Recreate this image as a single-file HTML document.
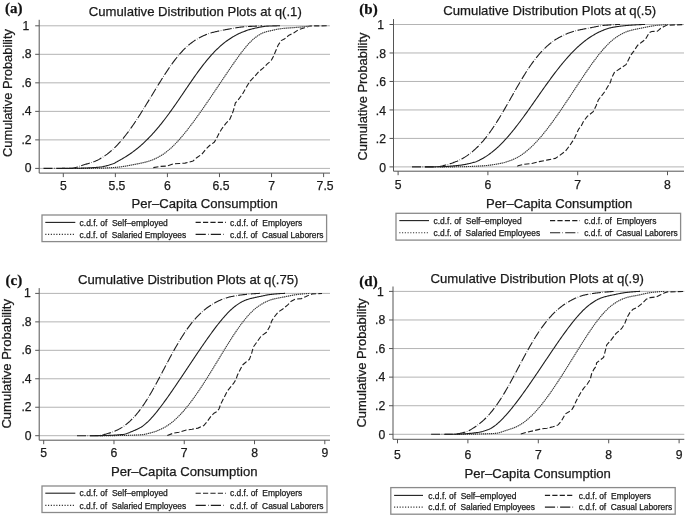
<!DOCTYPE html>
<html><head><meta charset="utf-8"><title>Cumulative Distribution Plots</title>
<style>html,body{margin:0;padding:0;background:#fff;overflow:hidden}svg{display:block;filter:blur(0.4px)}</style></head>
<body><svg width="685" height="515" viewBox="0 0 685 515">
<rect width="685" height="515" fill="#fff"/>
<line x1="39.2" y1="168.40" x2="330" y2="168.40" stroke="#b4b4b4" stroke-width="1"/>
<line x1="39.2" y1="139.88" x2="330" y2="139.88" stroke="#b4b4b4" stroke-width="1"/>
<line x1="39.2" y1="111.36" x2="330" y2="111.36" stroke="#b4b4b4" stroke-width="1"/>
<line x1="39.2" y1="82.84" x2="330" y2="82.84" stroke="#b4b4b4" stroke-width="1"/>
<line x1="39.2" y1="54.32" x2="330" y2="54.32" stroke="#b4b4b4" stroke-width="1"/>
<line x1="39.2" y1="25.80" x2="330" y2="25.80" stroke="#b4b4b4" stroke-width="1"/>
<path d="M153.30,167.60 L160.20,166.40 L167.50,166.00 L173.40,163.80 L179.20,163.50 L185.00,163.10 L189.40,162.00 L193.10,161.00 L196.70,157.70 L201.80,154.30 L205.50,149.60 L209.90,145.30 L214.20,142.30 L216.40,138.70 L218.60,134.30 L221.50,129.20 L225.90,123.40 L229.60,119.70 L232.50,113.10 L233.90,108.80 L235.40,102.90 L237.60,100.70 L242.40,94.20 L246.30,87.20 L250.20,81.00 L254.80,76.30 L258.70,71.70 L263.40,67.80 L267.30,63.90 L271.10,60.80 L273.50,56.20 L275.80,50.70 L278.10,45.30 L281.20,40.60 L284.30,39.10 L289.00,35.20 L293.70,32.90 L298.30,29.80 L303.00,28.20 L307.60,26.70 L310.70,25.90 L329.00,25.80" fill="none" stroke="#1e1e1e" stroke-width="1.1" stroke-dasharray="5.2 2.2"/>
<path d="M75.00,168.40 L75.75,168.40 L76.50,168.40 L77.25,168.40 L78.00,168.40 L78.75,168.40 L79.50,168.39 L80.25,168.39 L81.00,168.39 L81.75,168.39 L82.50,168.38 L83.25,168.38 L84.00,168.38 L84.75,168.37 L85.50,168.37 L86.25,168.37 L87.00,168.36 L87.75,168.36 L88.50,168.35 L89.25,168.35 L90.00,168.34 L90.75,168.34 L91.50,168.33 L92.25,168.32 L93.00,168.32 L93.75,168.31 L94.50,168.30 L95.25,168.30 L96.00,168.29 L96.75,168.28 L97.50,168.26 L98.25,168.25 L99.00,168.23 L99.75,168.21 L100.50,168.19 L101.25,168.16 L102.00,168.13 L102.75,168.11 L103.50,168.08 L104.25,168.04 L105.00,168.01 L105.75,167.97 L106.50,167.94 L107.25,167.90 L108.00,167.86 L108.75,167.81 L109.50,167.77 L110.25,167.73 L111.00,167.68 L111.75,167.63 L112.50,167.59 L113.25,167.54 L114.00,167.49 L114.75,167.44 L115.50,167.39 L116.25,167.33 L117.00,167.26 L117.75,167.19 L118.50,167.12 L119.25,167.03 L120.00,166.94 L120.75,166.85 L121.50,166.75 L122.25,166.64 L123.00,166.53 L123.75,166.41 L124.50,166.29 L125.25,166.17 L126.00,166.04 L126.75,165.91 L127.50,165.78 L128.25,165.64 L129.00,165.51 L129.75,165.37 L130.50,165.22 L131.25,165.08 L132.00,164.93 L132.75,164.79 L133.50,164.64 L134.25,164.49 L135.00,164.35 L135.75,164.20 L136.50,164.05 L137.25,163.91 L138.00,163.76 L138.75,163.61 L139.50,163.46 L140.25,163.31 L141.00,163.15 L141.75,162.98 L142.50,162.82 L143.25,162.64 L144.00,162.47 L144.75,162.29 L145.50,162.10 L146.25,161.90 L147.00,161.71 L147.75,161.50 L148.50,161.29 L149.25,161.06 L150.00,160.82 L150.75,160.55 L151.50,160.27 L152.25,159.98 L153.00,159.70 L153.75,159.37 L154.50,159.03 L155.25,158.67 L156.00,158.31 L156.75,157.93 L157.50,157.54 L158.25,157.14 L159.00,156.73 L159.75,156.30 L160.50,155.87 L161.25,155.43 L162.00,154.98 L162.75,154.52 L163.50,154.04 L164.25,153.50 L165.00,152.94 L165.75,152.37 L166.50,151.79 L167.25,151.19 L168.00,150.59 L168.75,149.97 L169.50,149.34 L170.25,148.70 L171.00,148.04 L171.75,147.35 L172.50,146.63 L173.25,145.90 L174.00,145.16 L174.75,144.41 L175.50,143.64 L176.25,142.86 L177.00,142.07 L177.75,141.26 L178.50,140.43 L179.25,139.59 L180.00,138.75 L180.75,137.89 L181.50,137.01 L182.25,136.12 L183.00,135.23 L183.75,134.32 L184.50,133.41 L185.25,132.48 L186.00,131.55 L186.75,130.61 L187.50,129.66 L188.25,128.69 L189.00,127.72 L189.75,126.75 L190.50,125.76 L191.25,124.77 L192.00,123.77 L192.75,122.76 L193.50,121.75 L194.25,120.73 L195.00,119.71 L195.75,118.68 L196.50,117.64 L197.25,116.60 L198.00,115.55 L198.75,114.50 L199.50,113.44 L200.25,112.38 L201.00,111.32 L201.75,110.25 L202.50,109.17 L203.25,108.09 L204.00,107.01 L204.75,105.93 L205.50,104.84 L206.25,103.75 L207.00,102.66 L207.75,101.56 L208.50,100.46 L209.25,99.36 L210.00,98.26 L210.75,97.15 L211.50,96.04 L212.25,94.93 L213.00,93.82 L213.75,92.71 L214.50,91.60 L215.25,90.48 L216.00,89.37 L216.75,88.25 L217.50,87.13 L218.25,86.01 L219.00,84.90 L219.75,83.78 L220.50,82.66 L221.25,81.54 L222.00,80.43 L222.75,79.31 L223.50,78.19 L224.25,77.08 L225.00,75.96 L225.75,74.85 L226.50,73.74 L227.25,72.64 L228.00,71.53 L228.75,70.43 L229.50,69.33 L230.25,68.23 L231.00,67.14 L231.75,66.05 L232.50,64.96 L233.25,63.88 L234.00,62.81 L234.75,61.74 L235.50,60.67 L236.25,59.62 L237.00,58.57 L237.75,57.52 L238.50,56.49 L239.25,55.46 L240.00,54.45 L240.75,53.44 L241.50,52.45 L242.25,51.47 L243.00,50.51 L243.75,49.57 L244.50,48.63 L245.25,47.71 L246.00,46.80 L246.75,45.91 L247.50,45.04 L248.25,44.19 L249.00,43.39 L249.75,42.60 L250.50,41.83 L251.25,41.08 L252.00,40.35 L252.75,39.68 L253.50,39.05 L254.25,38.44 L255.00,37.84 L255.75,37.25 L256.50,36.69 L257.25,36.15 L258.00,35.64 L258.75,35.15 L259.50,34.69 L260.25,34.26 L261.00,33.85 L261.75,33.46 L262.50,33.11 L263.25,32.78 L264.00,32.50 L264.75,32.25 L265.50,32.02 L266.25,31.79 L267.00,31.58 L267.75,31.38 L268.50,31.19 L269.25,31.01 L270.00,30.84 L270.75,30.67 L271.50,30.50 L272.25,30.34 L273.00,30.18 L273.75,30.02 L274.50,29.86 L275.25,29.69 L276.00,29.53 L276.75,29.37 L277.50,29.22 L278.25,29.07 L279.00,28.95 L279.75,28.83 L280.50,28.74 L281.25,28.65 L282.00,28.56 L282.75,28.48 L283.50,28.40 L284.25,28.33 L285.00,28.26 L285.75,28.19 L286.50,28.13 L287.25,28.07 L288.00,28.01 L288.75,27.95 L289.50,27.90 L290.25,27.84 L291.00,27.79 L291.75,27.73 L292.50,27.68 L293.25,27.63 L294.00,27.58 L294.75,27.52 L295.50,27.47 L296.25,27.41 L297.00,27.35 L297.75,27.30 L298.50,27.23 L299.25,27.17 L300.00,27.10 L300.75,27.03 L301.50,26.96 L302.25,26.89 L303.00,26.81 L303.75,26.73 L304.50,26.65 L305.25,26.57 L306.00,26.49 L306.75,26.41 L307.50,26.32 L308.25,26.24 L309.00,26.15 L309.75,26.06 L310.50,25.98 L311.25,25.89 L312.00,25.80" fill="none" stroke="#b8b8b8" stroke-width="1"/>
<path d="M75.00,168.40 L75.75,168.40 L76.50,168.40 L77.25,168.40 L78.00,168.40 L78.75,168.40 L79.50,168.39 L80.25,168.39 L81.00,168.39 L81.75,168.39 L82.50,168.38 L83.25,168.38 L84.00,168.38 L84.75,168.37 L85.50,168.37 L86.25,168.37 L87.00,168.36 L87.75,168.36 L88.50,168.35 L89.25,168.35 L90.00,168.34 L90.75,168.34 L91.50,168.33 L92.25,168.32 L93.00,168.32 L93.75,168.31 L94.50,168.30 L95.25,168.30 L96.00,168.29 L96.75,168.28 L97.50,168.26 L98.25,168.25 L99.00,168.23 L99.75,168.21 L100.50,168.19 L101.25,168.16 L102.00,168.13 L102.75,168.11 L103.50,168.08 L104.25,168.04 L105.00,168.01 L105.75,167.97 L106.50,167.94 L107.25,167.90 L108.00,167.86 L108.75,167.81 L109.50,167.77 L110.25,167.73 L111.00,167.68 L111.75,167.63 L112.50,167.59 L113.25,167.54 L114.00,167.49 L114.75,167.44 L115.50,167.39 L116.25,167.33 L117.00,167.26 L117.75,167.19 L118.50,167.12 L119.25,167.03 L120.00,166.94 L120.75,166.85 L121.50,166.75 L122.25,166.64 L123.00,166.53 L123.75,166.41 L124.50,166.29 L125.25,166.17 L126.00,166.04 L126.75,165.91 L127.50,165.78 L128.25,165.64 L129.00,165.51 L129.75,165.37 L130.50,165.22 L131.25,165.08 L132.00,164.93 L132.75,164.79 L133.50,164.64 L134.25,164.49 L135.00,164.35 L135.75,164.20 L136.50,164.05 L137.25,163.91 L138.00,163.76 L138.75,163.61 L139.50,163.46 L140.25,163.31 L141.00,163.15 L141.75,162.98 L142.50,162.82 L143.25,162.64 L144.00,162.47 L144.75,162.29 L145.50,162.10 L146.25,161.90 L147.00,161.71 L147.75,161.50 L148.50,161.29 L149.25,161.06 L150.00,160.82 L150.75,160.55 L151.50,160.27 L152.25,159.98 L153.00,159.70 L153.75,159.37 L154.50,159.03 L155.25,158.67 L156.00,158.31 L156.75,157.93 L157.50,157.54 L158.25,157.14 L159.00,156.73 L159.75,156.30 L160.50,155.87 L161.25,155.43 L162.00,154.98 L162.75,154.52 L163.50,154.04 L164.25,153.50 L165.00,152.94 L165.75,152.37 L166.50,151.79 L167.25,151.19 L168.00,150.59 L168.75,149.97 L169.50,149.34 L170.25,148.70 L171.00,148.04 L171.75,147.35 L172.50,146.63 L173.25,145.90 L174.00,145.16 L174.75,144.41 L175.50,143.64 L176.25,142.86 L177.00,142.07 L177.75,141.26 L178.50,140.43 L179.25,139.59 L180.00,138.75 L180.75,137.89 L181.50,137.01 L182.25,136.12 L183.00,135.23 L183.75,134.32 L184.50,133.41 L185.25,132.48 L186.00,131.55 L186.75,130.61 L187.50,129.66 L188.25,128.69 L189.00,127.72 L189.75,126.75 L190.50,125.76 L191.25,124.77 L192.00,123.77 L192.75,122.76 L193.50,121.75 L194.25,120.73 L195.00,119.71 L195.75,118.68 L196.50,117.64 L197.25,116.60 L198.00,115.55 L198.75,114.50 L199.50,113.44 L200.25,112.38 L201.00,111.32 L201.75,110.25 L202.50,109.17 L203.25,108.09 L204.00,107.01 L204.75,105.93 L205.50,104.84 L206.25,103.75 L207.00,102.66 L207.75,101.56 L208.50,100.46 L209.25,99.36 L210.00,98.26 L210.75,97.15 L211.50,96.04 L212.25,94.93 L213.00,93.82 L213.75,92.71 L214.50,91.60 L215.25,90.48 L216.00,89.37 L216.75,88.25 L217.50,87.13 L218.25,86.01 L219.00,84.90 L219.75,83.78 L220.50,82.66 L221.25,81.54 L222.00,80.43 L222.75,79.31 L223.50,78.19 L224.25,77.08 L225.00,75.96 L225.75,74.85 L226.50,73.74 L227.25,72.64 L228.00,71.53 L228.75,70.43 L229.50,69.33 L230.25,68.23 L231.00,67.14 L231.75,66.05 L232.50,64.96 L233.25,63.88 L234.00,62.81 L234.75,61.74 L235.50,60.67 L236.25,59.62 L237.00,58.57 L237.75,57.52 L238.50,56.49 L239.25,55.46 L240.00,54.45 L240.75,53.44 L241.50,52.45 L242.25,51.47 L243.00,50.51 L243.75,49.57 L244.50,48.63 L245.25,47.71 L246.00,46.80 L246.75,45.91 L247.50,45.04 L248.25,44.19 L249.00,43.39 L249.75,42.60 L250.50,41.83 L251.25,41.08 L252.00,40.35 L252.75,39.68 L253.50,39.05 L254.25,38.44 L255.00,37.84 L255.75,37.25 L256.50,36.69 L257.25,36.15 L258.00,35.64 L258.75,35.15 L259.50,34.69 L260.25,34.26 L261.00,33.85 L261.75,33.46 L262.50,33.11 L263.25,32.78 L264.00,32.50 L264.75,32.25 L265.50,32.02 L266.25,31.79 L267.00,31.58 L267.75,31.38 L268.50,31.19 L269.25,31.01 L270.00,30.84 L270.75,30.67 L271.50,30.50 L272.25,30.34 L273.00,30.18 L273.75,30.02 L274.50,29.86 L275.25,29.69 L276.00,29.53 L276.75,29.37 L277.50,29.22 L278.25,29.07 L279.00,28.95 L279.75,28.83 L280.50,28.74 L281.25,28.65 L282.00,28.56 L282.75,28.48 L283.50,28.40 L284.25,28.33 L285.00,28.26 L285.75,28.19 L286.50,28.13 L287.25,28.07 L288.00,28.01 L288.75,27.95 L289.50,27.90 L290.25,27.84 L291.00,27.79 L291.75,27.73 L292.50,27.68 L293.25,27.63 L294.00,27.58 L294.75,27.52 L295.50,27.47 L296.25,27.41 L297.00,27.35 L297.75,27.30 L298.50,27.23 L299.25,27.17 L300.00,27.10 L300.75,27.03 L301.50,26.96 L302.25,26.89 L303.00,26.81 L303.75,26.73 L304.50,26.65 L305.25,26.57 L306.00,26.49 L306.75,26.41 L307.50,26.32 L308.25,26.24 L309.00,26.15 L309.75,26.06 L310.50,25.98 L311.25,25.89 L312.00,25.80" fill="none" stroke="#333" stroke-width="1.1" stroke-dasharray="1.1 0.9"/>
<path d="M62.00,168.40 L62.75,168.40 L63.50,168.40 L64.25,168.40 L65.00,168.39 L65.75,168.39 L66.50,168.38 L67.25,168.38 L68.00,168.37 L68.75,168.37 L69.50,168.36 L70.25,168.35 L71.00,168.35 L71.75,168.34 L72.50,168.33 L73.25,168.32 L74.00,168.31 L74.75,168.30 L75.50,168.29 L76.25,168.28 L77.00,168.27 L77.75,168.26 L78.50,168.24 L79.25,168.22 L80.00,168.21 L80.75,168.19 L81.50,168.16 L82.25,168.14 L83.00,168.12 L83.75,168.09 L84.50,168.06 L85.25,168.03 L86.00,168.00 L86.75,167.97 L87.50,167.94 L88.25,167.90 L89.00,167.86 L89.75,167.82 L90.50,167.78 L91.25,167.74 L92.00,167.70 L92.75,167.65 L93.50,167.60 L94.25,167.55 L95.00,167.50 L95.75,167.45 L96.50,167.40 L97.25,167.34 L98.00,167.28 L98.75,167.22 L99.50,167.13 L100.25,167.04 L101.00,166.93 L101.75,166.81 L102.50,166.67 L103.25,166.53 L104.00,166.37 L104.75,166.21 L105.50,166.03 L106.25,165.85 L107.00,165.65 L107.75,165.45 L108.50,165.23 L109.25,165.02 L110.00,164.79 L110.75,164.55 L111.50,164.31 L112.25,164.07 L113.00,163.81 L113.75,163.50 L114.50,163.14 L115.25,162.74 L116.00,162.32 L116.75,161.88 L117.50,161.45 L118.25,161.03 L119.00,160.63 L119.75,160.23 L120.50,159.81 L121.25,159.38 L122.00,158.94 L122.75,158.50 L123.50,158.05 L124.25,157.60 L125.00,157.14 L125.75,156.68 L126.50,156.21 L127.25,155.73 L128.00,155.25 L128.75,154.77 L129.50,154.28 L130.25,153.76 L131.00,153.22 L131.75,152.68 L132.50,152.14 L133.25,151.58 L134.00,151.02 L134.75,150.45 L135.50,149.88 L136.25,149.30 L137.00,148.71 L137.75,148.11 L138.50,147.49 L139.25,146.86 L140.00,146.21 L140.75,145.56 L141.50,144.90 L142.25,144.23 L143.00,143.55 L143.75,142.86 L144.50,142.16 L145.25,141.45 L146.00,140.72 L146.75,139.98 L147.50,139.24 L148.25,138.49 L149.00,137.72 L149.75,136.94 L150.50,136.15 L151.25,135.35 L152.00,134.54 L152.75,133.72 L153.50,132.89 L154.25,132.05 L155.00,131.21 L155.75,130.35 L156.50,129.48 L157.25,128.59 L158.00,127.70 L158.75,126.80 L159.50,125.89 L160.25,124.97 L161.00,124.04 L161.75,123.10 L162.50,122.15 L163.25,121.19 L164.00,120.22 L164.75,119.24 L165.50,118.26 L166.25,117.26 L167.00,116.26 L167.75,115.25 L168.50,114.24 L169.25,113.21 L170.00,112.18 L170.75,111.14 L171.50,110.09 L172.25,109.04 L173.00,107.98 L173.75,106.92 L174.50,105.85 L175.25,104.77 L176.00,103.70 L176.75,102.61 L177.50,101.53 L178.25,100.44 L179.00,99.34 L179.75,98.24 L180.50,97.14 L181.25,96.04 L182.00,94.94 L182.75,93.83 L183.50,92.73 L184.25,91.62 L185.00,90.52 L185.75,89.41 L186.50,88.31 L187.25,87.21 L188.00,86.10 L188.75,85.01 L189.50,83.91 L190.25,82.82 L191.00,81.73 L191.75,80.64 L192.50,79.57 L193.25,78.49 L194.00,77.42 L194.75,76.36 L195.50,75.30 L196.25,74.25 L197.00,73.21 L197.75,72.17 L198.50,71.14 L199.25,70.12 L200.00,69.11 L200.75,68.11 L201.50,67.12 L202.25,66.13 L203.00,65.16 L203.75,64.20 L204.50,63.25 L205.25,62.31 L206.00,61.39 L206.75,60.47 L207.50,59.57 L208.25,58.67 L209.00,57.79 L209.75,56.92 L210.50,56.07 L211.25,55.22 L212.00,54.40 L212.75,53.58 L213.50,52.78 L214.25,51.99 L215.00,51.22 L215.75,50.47 L216.50,49.73 L217.25,49.00 L218.00,48.28 L218.75,47.58 L219.50,46.88 L220.25,46.20 L221.00,45.52 L221.75,44.87 L222.50,44.24 L223.25,43.63 L224.00,43.03 L224.75,42.44 L225.50,41.86 L226.25,41.29 L227.00,40.74 L227.75,40.19 L228.50,39.67 L229.25,39.18 L230.00,38.70 L230.75,38.22 L231.50,37.75 L232.25,37.28 L233.00,36.83 L233.75,36.38 L234.50,35.95 L235.25,35.52 L236.00,35.11 L236.75,34.71 L237.50,34.32 L238.25,33.94 L239.00,33.57 L239.75,33.22 L240.50,32.89 L241.25,32.58 L242.00,32.28 L242.75,31.99 L243.50,31.70 L244.25,31.42 L245.00,31.14 L245.75,30.87 L246.50,30.60 L247.25,30.34 L248.00,30.09 L248.75,29.85 L249.50,29.62 L250.25,29.40 L251.00,29.18 L251.75,28.98 L252.50,28.79 L253.25,28.61 L254.00,28.44 L254.75,28.27 L255.50,28.09 L256.25,27.92 L257.00,27.76 L257.75,27.59 L258.50,27.43 L259.25,27.27 L260.00,27.12 L260.75,26.97 L261.50,26.84 L262.25,26.71 L263.00,26.59 L263.75,26.48 L264.50,26.38 L265.25,26.29 L266.00,26.22 L266.75,26.16 L267.50,26.11 L268.25,26.08 L269.00,26.05 L269.75,26.02 L270.50,25.99 L271.25,25.97 L272.00,25.94 L272.75,25.92 L273.50,25.90 L274.25,25.88 L275.00,25.86 L275.75,25.84 L276.50,25.83 L277.25,25.82 L278.00,25.81 L278.75,25.80 L279.50,25.80 L280.00,25.80" fill="none" stroke="#1e1e1e" stroke-width="1.1"/>
<path d="M43.50,168.40 L44.25,168.40 L45.00,168.40 L45.75,168.40 L46.50,168.40 L47.25,168.40 L48.00,168.40 L48.75,168.40 L49.50,168.40 L50.25,168.40 L51.00,168.40 L51.75,168.40 L52.50,168.40 L53.25,168.40 L54.00,168.40 L54.75,168.40 L55.50,168.40 L56.25,168.40 L57.00,168.40 L57.75,168.40 L58.50,168.40 L59.25,168.40 L60.00,168.40 L60.75,168.40 L61.50,168.40 L62.25,168.40 L63.00,168.40 L63.75,168.40 L64.50,168.40 L65.25,168.40 L66.00,168.40 L66.75,168.40 L67.50,168.40 L68.25,168.40 L69.00,168.40 L69.75,168.40 L70.50,168.38 L71.25,168.33 L72.00,168.24 L72.75,168.13 L73.50,167.98 L74.25,167.82 L75.00,167.63 L75.75,167.42 L76.50,167.19 L77.25,166.96 L78.00,166.71 L78.75,166.46 L79.50,166.20 L80.25,165.94 L81.00,165.69 L81.75,165.44 L82.50,165.19 L83.25,164.96 L84.00,164.74 L84.75,164.53 L85.50,164.31 L86.25,164.10 L87.00,163.88 L87.75,163.66 L88.50,163.44 L89.25,163.22 L90.00,162.99 L90.75,162.75 L91.50,162.51 L92.25,162.26 L93.00,162.00 L93.75,161.73 L94.50,161.46 L95.25,161.17 L96.00,160.87 L96.75,160.51 L97.50,160.16 L98.25,159.77 L99.00,159.37 L99.75,158.94 L100.50,158.51 L101.25,158.06 L102.00,157.60 L102.75,157.13 L103.50,156.65 L104.25,156.16 L105.00,155.66 L105.75,155.15 L106.50,154.63 L107.25,154.10 L108.00,153.50 L108.75,152.90 L109.50,152.28 L110.25,151.65 L111.00,151.00 L111.75,150.35 L112.50,149.68 L113.25,149.00 L114.00,148.31 L114.75,147.59 L115.50,146.84 L116.25,146.08 L117.00,145.30 L117.75,144.51 L118.50,143.70 L119.25,142.88 L120.00,142.05 L120.75,141.19 L121.50,140.32 L122.25,139.43 L123.00,138.53 L123.75,137.61 L124.50,136.68 L125.25,135.73 L126.00,134.77 L126.75,133.79 L127.50,132.81 L128.25,131.81 L129.00,130.80 L129.75,129.77 L130.50,128.73 L131.25,127.67 L132.00,126.61 L132.75,125.53 L133.50,124.44 L134.25,123.34 L135.00,122.23 L135.75,121.11 L136.50,119.98 L137.25,118.84 L138.00,117.69 L138.75,116.53 L139.50,115.37 L140.25,114.19 L141.00,113.01 L141.75,111.82 L142.50,110.63 L143.25,109.42 L144.00,108.22 L144.75,107.00 L145.50,105.78 L146.25,104.56 L147.00,103.33 L147.75,102.11 L148.50,100.87 L149.25,99.64 L150.00,98.40 L150.75,97.16 L151.50,95.92 L152.25,94.68 L153.00,93.44 L153.75,92.21 L154.50,90.97 L155.25,89.74 L156.00,88.50 L156.75,87.27 L157.50,86.05 L158.25,84.82 L159.00,83.61 L159.75,82.40 L160.50,81.19 L161.25,79.99 L162.00,78.80 L162.75,77.62 L163.50,76.44 L164.25,75.27 L165.00,74.11 L165.75,72.97 L166.50,71.83 L167.25,70.70 L168.00,69.59 L168.75,68.49 L169.50,67.40 L170.25,66.32 L171.00,65.25 L171.75,64.20 L172.50,63.17 L173.25,62.16 L174.00,61.16 L174.75,60.17 L175.50,59.20 L176.25,58.24 L177.00,57.30 L177.75,56.38 L178.50,55.48 L179.25,54.60 L180.00,53.73 L180.75,52.88 L181.50,52.04 L182.25,51.25 L183.00,50.47 L183.75,49.70 L184.50,48.95 L185.25,48.22 L186.00,47.50 L186.75,46.79 L187.50,46.10 L188.25,45.43 L189.00,44.79 L189.75,44.17 L190.50,43.58 L191.25,43.00 L192.00,42.44 L192.75,41.89 L193.50,41.36 L194.25,40.83 L195.00,40.32 L195.75,39.84 L196.50,39.41 L197.25,38.98 L198.00,38.56 L198.75,38.15 L199.50,37.75 L200.25,37.35 L201.00,36.97 L201.75,36.59 L202.50,36.23 L203.25,35.87 L204.00,35.53 L204.75,35.20 L205.50,34.88 L206.25,34.57 L207.00,34.28 L207.75,34.00 L208.50,33.73 L209.25,33.47 L210.00,33.23 L210.75,33.00 L211.50,32.77 L212.25,32.56 L213.00,32.36 L213.75,32.17 L214.50,31.98 L215.25,31.80 L216.00,31.62 L216.75,31.45 L217.50,31.28 L218.25,31.12 L219.00,30.96 L219.75,30.80 L220.50,30.65 L221.25,30.50 L222.00,30.35 L222.75,30.21 L223.50,30.07 L224.25,29.93 L225.00,29.79 L225.75,29.65 L226.50,29.51 L227.25,29.37 L228.00,29.23 L228.75,29.09 L229.50,28.95 L230.25,28.81 L231.00,28.67 L231.75,28.53 L232.50,28.40 L233.25,28.26 L234.00,28.13 L234.75,28.01 L235.50,27.88 L236.25,27.76 L237.00,27.64 L237.75,27.53 L238.50,27.42 L239.25,27.31 L240.00,27.21 L240.75,27.12 L241.50,27.03 L242.25,26.95 L243.00,26.87 L243.75,26.80 L244.50,26.74 L245.25,26.68 L246.00,26.63 L246.75,26.58 L247.50,26.54 L248.25,26.50 L249.00,26.46 L249.75,26.42 L250.50,26.39 L251.25,26.36 L252.00,26.32 L252.75,26.29 L253.50,26.26 L254.25,26.23 L255.00,26.20 L255.75,26.17 L256.50,26.13 L257.25,26.10 L258.00,26.06 L258.75,26.01 L259.50,25.97 L260.25,25.92 L261.00,25.87 L261.75,25.82 L262.00,25.80" fill="none" stroke="#1e1e1e" stroke-width="1.1" stroke-dasharray="9 1.6 0.5 1.6"/>
<line x1="39.2" y1="19.8" x2="39.2" y2="173.1" stroke="#555555" stroke-width="1"/>
<line x1="39.2" y1="173.1" x2="330" y2="173.1" stroke="#555555" stroke-width="1"/>
<line x1="35.2" y1="168.40" x2="39.2" y2="168.40" stroke="#555555" stroke-width="1"/>
<text x="31.60" y="172.20" font-family='"Liberation Sans", sans-serif' font-size="12.2" font-weight="normal" text-anchor="end" fill="#1a1a1a" stroke="#1a1a1a" stroke-width="0.25" xml:space="preserve">0</text>
<line x1="35.2" y1="139.88" x2="39.2" y2="139.88" stroke="#555555" stroke-width="1"/>
<text x="31.60" y="143.68" font-family='"Liberation Sans", sans-serif' font-size="12.2" font-weight="normal" text-anchor="end" fill="#1a1a1a" stroke="#1a1a1a" stroke-width="0.25" xml:space="preserve">.2</text>
<line x1="35.2" y1="111.36" x2="39.2" y2="111.36" stroke="#555555" stroke-width="1"/>
<text x="31.60" y="115.16" font-family='"Liberation Sans", sans-serif' font-size="12.2" font-weight="normal" text-anchor="end" fill="#1a1a1a" stroke="#1a1a1a" stroke-width="0.25" xml:space="preserve">.4</text>
<line x1="35.2" y1="82.84" x2="39.2" y2="82.84" stroke="#555555" stroke-width="1"/>
<text x="31.60" y="86.64" font-family='"Liberation Sans", sans-serif' font-size="12.2" font-weight="normal" text-anchor="end" fill="#1a1a1a" stroke="#1a1a1a" stroke-width="0.25" xml:space="preserve">.6</text>
<line x1="35.2" y1="54.32" x2="39.2" y2="54.32" stroke="#555555" stroke-width="1"/>
<text x="31.60" y="58.12" font-family='"Liberation Sans", sans-serif' font-size="12.2" font-weight="normal" text-anchor="end" fill="#1a1a1a" stroke="#1a1a1a" stroke-width="0.25" xml:space="preserve">.8</text>
<line x1="35.2" y1="25.80" x2="39.2" y2="25.80" stroke="#555555" stroke-width="1"/>
<text x="29.20" y="29.60" font-family='"Liberation Sans", sans-serif' font-size="12.2" font-weight="normal" text-anchor="end" fill="#1a1a1a" stroke="#1a1a1a" stroke-width="0.25" xml:space="preserve">1</text>
<line x1="63.30" y1="173.1" x2="63.30" y2="177.1" stroke="#555555" stroke-width="1"/>
<text x="63.30" y="190.2" font-family='"Liberation Sans", sans-serif' font-size="12.2" font-weight="normal" text-anchor="middle" fill="#1a1a1a" stroke="#1a1a1a" stroke-width="0.25" xml:space="preserve">5</text>
<line x1="115.36" y1="173.1" x2="115.36" y2="177.1" stroke="#555555" stroke-width="1"/>
<text x="116.86" y="190.2" font-family='"Liberation Sans", sans-serif' font-size="12.2" font-weight="normal" text-anchor="middle" fill="#1a1a1a" stroke="#1a1a1a" stroke-width="0.25" xml:space="preserve">5.5</text>
<line x1="167.42" y1="173.1" x2="167.42" y2="177.1" stroke="#555555" stroke-width="1"/>
<text x="167.42" y="190.2" font-family='"Liberation Sans", sans-serif' font-size="12.2" font-weight="normal" text-anchor="middle" fill="#1a1a1a" stroke="#1a1a1a" stroke-width="0.25" xml:space="preserve">6</text>
<line x1="219.48" y1="173.1" x2="219.48" y2="177.1" stroke="#555555" stroke-width="1"/>
<text x="220.98" y="190.2" font-family='"Liberation Sans", sans-serif' font-size="12.2" font-weight="normal" text-anchor="middle" fill="#1a1a1a" stroke="#1a1a1a" stroke-width="0.25" xml:space="preserve">6.5</text>
<line x1="271.54" y1="173.1" x2="271.54" y2="177.1" stroke="#555555" stroke-width="1"/>
<text x="271.54" y="190.2" font-family='"Liberation Sans", sans-serif' font-size="12.2" font-weight="normal" text-anchor="middle" fill="#1a1a1a" stroke="#1a1a1a" stroke-width="0.25" xml:space="preserve">7</text>
<line x1="323.60" y1="173.1" x2="323.60" y2="177.1" stroke="#555555" stroke-width="1"/>
<text x="325.10" y="190.2" font-family='"Liberation Sans", sans-serif' font-size="12.2" font-weight="normal" text-anchor="middle" fill="#1a1a1a" stroke="#1a1a1a" stroke-width="0.25" xml:space="preserve">7.5</text>
<text x="5" y="13.4" font-family='"Liberation Serif", serif' font-size="15" font-weight="bold" text-anchor="start" fill="#111" stroke="#111" stroke-width="0.25" xml:space="preserve">(a)</text>
<text x="88.8" y="15.6" font-family='"Liberation Sans", sans-serif' font-size="13" font-weight="normal" text-anchor="start" fill="#1a1a1a" stroke="#1a1a1a" stroke-width="0.25" textLength="213" lengthAdjust="spacingAndGlyphs" xml:space="preserve">Cumulative Distribution Plots at q(.1)</text>
<text x="131.5" y="207.5" font-family='"Liberation Sans", sans-serif' font-size="13" font-weight="normal" text-anchor="start" fill="#1a1a1a" stroke="#1a1a1a" stroke-width="0.25" textLength="146.4" lengthAdjust="spacingAndGlyphs" xml:space="preserve">Per–Capita Consumption</text>
<g transform="translate(11.7,93.0) rotate(-90)"><text x="0" y="0" font-family='"Liberation Sans", sans-serif' font-size="13" font-weight="normal" text-anchor="middle" fill="#1a1a1a" stroke="#1a1a1a" stroke-width="0.25" textLength="128" lengthAdjust="spacingAndGlyphs" xml:space="preserve">Cumulative Probability</text></g>
<rect x="42.0" y="215.0" width="284.6" height="26.599999999999994" fill="#fff" stroke="#8a8a8a" stroke-width="1.3"/>
<line x1="45.3" y1="222.4" x2="75.3" y2="222.4" stroke="#1e1e1e" stroke-width="1.1"/>
<line x1="45.3" y1="234.4" x2="75.3" y2="234.4" stroke="#2a2a2a" stroke-width="1.1" stroke-dasharray="1.1 1.65"/>
<line x1="195.6" y1="222.4" x2="226.0" y2="222.4" stroke="#1e1e1e" stroke-width="1.1" stroke-dasharray="5.2 2.2"/>
<line x1="195.6" y1="234.4" x2="226.0" y2="234.4" stroke="#1e1e1e" stroke-width="1.1" stroke-dasharray="10.2 2.2 0.6 2.2"/>
<text x="79.6" y="225.60" font-family='"Liberation Sans", sans-serif' font-size="8.4" font-weight="normal" text-anchor="start" fill="#1a1a1a" stroke="#1a1a1a" stroke-width="0.25" textLength="88.2" lengthAdjust="spacingAndGlyphs" xml:space="preserve">c.d.f. of  Self–employed</text>
<text x="79.6" y="237.60" font-family='"Liberation Sans", sans-serif' font-size="8.4" font-weight="normal" text-anchor="start" fill="#1a1a1a" stroke="#1a1a1a" stroke-width="0.25" textLength="106.6" lengthAdjust="spacingAndGlyphs" xml:space="preserve">c.d.f. of  Salaried Employees</text>
<text x="230.0" y="225.60" font-family='"Liberation Sans", sans-serif' font-size="8.4" font-weight="normal" text-anchor="start" fill="#1a1a1a" stroke="#1a1a1a" stroke-width="0.25" textLength="72.2" lengthAdjust="spacingAndGlyphs" xml:space="preserve">c.d.f. of  Employers</text>
<text x="230.0" y="237.60" font-family='"Liberation Sans", sans-serif' font-size="8.4" font-weight="normal" text-anchor="start" fill="#1a1a1a" stroke="#1a1a1a" stroke-width="0.25" textLength="93.5" lengthAdjust="spacingAndGlyphs" xml:space="preserve">c.d.f. of  Casual Laborers</text>
<line x1="393.5" y1="166.90" x2="684" y2="166.90" stroke="#b4b4b4" stroke-width="1"/>
<line x1="393.5" y1="138.42" x2="684" y2="138.42" stroke="#b4b4b4" stroke-width="1"/>
<line x1="393.5" y1="109.94" x2="684" y2="109.94" stroke="#b4b4b4" stroke-width="1"/>
<line x1="393.5" y1="81.46" x2="684" y2="81.46" stroke="#b4b4b4" stroke-width="1"/>
<line x1="393.5" y1="52.98" x2="684" y2="52.98" stroke="#b4b4b4" stroke-width="1"/>
<line x1="393.5" y1="24.50" x2="684" y2="24.50" stroke="#b4b4b4" stroke-width="1"/>
<path d="M517.50,166.50 L518.00,165.70 L524.60,164.20 L531.90,163.50 L539.20,161.60 L548.00,159.90 L555.30,158.40 L559.60,155.50 L565.50,151.10 L569.90,145.30 L572.80,140.90 L575.00,137.20 L578.60,129.20 L581.20,126.00 L583.40,121.50 L587.30,116.30 L593.20,111.70 L596.10,105.80 L598.30,100.00 L604.70,91.80 L610.50,82.10 L611.50,78.30 L614.40,72.40 L620.20,68.50 L626.00,64.70 L630.90,55.00 L633.80,51.10 L637.70,45.20 L641.60,42.30 L645.40,39.40 L649.30,32.60 L651.70,31.50 L657.30,31.30 L660.50,28.50 L664.00,26.50 L666.50,25.20 L684.00,24.60" fill="none" stroke="#1e1e1e" stroke-width="1.1" stroke-dasharray="5.2 2.2"/>
<path d="M440.00,166.90 L440.75,166.90 L441.50,166.90 L442.25,166.90 L443.00,166.90 L443.75,166.89 L444.50,166.89 L445.25,166.89 L446.00,166.88 L446.75,166.88 L447.50,166.88 L448.25,166.87 L449.00,166.87 L449.75,166.86 L450.50,166.86 L451.25,166.85 L452.00,166.84 L452.75,166.84 L453.50,166.83 L454.25,166.83 L455.00,166.82 L455.75,166.81 L456.50,166.80 L457.25,166.80 L458.00,166.79 L458.75,166.78 L459.50,166.77 L460.25,166.76 L461.00,166.74 L461.75,166.73 L462.50,166.71 L463.25,166.69 L464.00,166.68 L464.75,166.66 L465.50,166.63 L466.25,166.61 L467.00,166.59 L467.75,166.56 L468.50,166.54 L469.25,166.51 L470.00,166.48 L470.75,166.45 L471.50,166.42 L472.25,166.39 L473.00,166.36 L473.75,166.33 L474.50,166.29 L475.25,166.26 L476.00,166.22 L476.75,166.19 L477.50,166.15 L478.25,166.11 L479.00,166.07 L479.75,166.03 L480.50,165.99 L481.25,165.94 L482.00,165.90 L482.75,165.85 L483.50,165.80 L484.25,165.74 L485.00,165.68 L485.75,165.61 L486.50,165.54 L487.25,165.46 L488.00,165.38 L488.75,165.30 L489.50,165.20 L490.25,165.11 L491.00,165.01 L491.75,164.90 L492.50,164.80 L493.25,164.68 L494.00,164.57 L494.75,164.45 L495.50,164.32 L496.25,164.20 L497.00,164.06 L497.75,163.93 L498.50,163.79 L499.25,163.65 L500.00,163.51 L500.75,163.36 L501.50,163.21 L502.25,163.06 L503.00,162.90 L503.75,162.73 L504.50,162.53 L505.25,162.30 L506.00,162.06 L506.75,161.81 L507.50,161.56 L508.25,161.30 L509.00,161.04 L509.75,160.77 L510.50,160.49 L511.25,160.20 L512.00,159.90 L512.75,159.59 L513.50,159.27 L514.25,158.95 L515.00,158.61 L515.75,158.25 L516.50,157.88 L517.25,157.48 L518.00,157.05 L518.75,156.62 L519.50,156.16 L520.25,155.70 L521.00,155.22 L521.75,154.71 L522.50,154.19 L523.25,153.66 L524.00,153.12 L524.75,152.56 L525.50,151.96 L526.25,151.35 L527.00,150.73 L527.75,150.10 L528.50,149.46 L529.25,148.80 L530.00,148.14 L530.75,147.46 L531.50,146.77 L532.25,146.05 L533.00,145.30 L533.75,144.55 L534.50,143.78 L535.25,143.01 L536.00,142.22 L536.75,141.42 L537.50,140.61 L538.25,139.77 L539.00,138.93 L539.75,138.07 L540.50,137.20 L541.25,136.32 L542.00,135.43 L542.75,134.52 L543.50,133.61 L544.25,132.68 L545.00,131.75 L545.75,130.81 L546.50,129.86 L547.25,128.89 L548.00,127.92 L548.75,126.94 L549.50,125.94 L550.25,124.94 L551.00,123.94 L551.75,122.92 L552.50,121.90 L553.25,120.86 L554.00,119.83 L554.75,118.78 L555.50,117.73 L556.25,116.67 L557.00,115.60 L557.75,114.53 L558.50,113.46 L559.25,112.38 L560.00,111.29 L560.75,110.20 L561.50,109.10 L562.25,108.00 L563.00,106.89 L563.75,105.78 L564.50,104.67 L565.25,103.55 L566.00,102.43 L566.75,101.31 L567.50,100.18 L568.25,99.05 L569.00,97.92 L569.75,96.79 L570.50,95.66 L571.25,94.52 L572.00,93.39 L572.75,92.25 L573.50,91.11 L574.25,89.97 L575.00,88.83 L575.75,87.70 L576.50,86.56 L577.25,85.42 L578.00,84.29 L578.75,83.15 L579.50,82.02 L580.25,80.89 L581.00,79.76 L581.75,78.64 L582.50,77.52 L583.25,76.40 L584.00,75.29 L584.75,74.17 L585.50,73.07 L586.25,71.97 L587.00,70.88 L587.75,69.78 L588.50,68.70 L589.25,67.62 L590.00,66.56 L590.75,65.49 L591.50,64.44 L592.25,63.39 L593.00,62.35 L593.75,61.33 L594.50,60.31 L595.25,59.31 L596.00,58.31 L596.75,57.32 L597.50,56.34 L598.25,55.38 L599.00,54.43 L599.75,53.49 L600.50,52.57 L601.25,51.66 L602.00,50.76 L602.75,49.90 L603.50,49.04 L604.25,48.20 L605.00,47.37 L605.75,46.56 L606.50,45.76 L607.25,44.98 L608.00,44.22 L608.75,43.49 L609.50,42.77 L610.25,42.07 L611.00,41.39 L611.75,40.73 L612.50,40.10 L613.25,39.48 L614.00,38.88 L614.75,38.33 L615.50,37.81 L616.25,37.29 L617.00,36.79 L617.75,36.29 L618.50,35.81 L619.25,35.35 L620.00,34.89 L620.75,34.46 L621.50,34.04 L622.25,33.64 L623.00,33.25 L623.75,32.89 L624.50,32.54 L625.25,32.21 L626.00,31.89 L626.75,31.61 L627.50,31.35 L628.25,31.12 L629.00,30.90 L629.75,30.68 L630.50,30.48 L631.25,30.29 L632.00,30.10 L632.75,29.91 L633.50,29.74 L634.25,29.57 L635.00,29.40 L635.75,29.24 L636.50,29.08 L637.25,28.93 L638.00,28.78 L638.75,28.62 L639.50,28.48 L640.25,28.33 L641.00,28.18 L641.75,28.03 L642.50,27.88 L643.25,27.73 L644.00,27.58 L644.75,27.42 L645.50,27.27 L646.25,27.11 L647.00,26.96 L647.75,26.81 L648.50,26.66 L649.25,26.51 L650.00,26.37 L650.75,26.24 L651.50,26.11 L652.25,25.98 L653.00,25.87 L653.75,25.76 L654.50,25.66 L655.25,25.57 L656.00,25.49 L656.75,25.40 L657.50,25.32 L658.25,25.24 L659.00,25.16 L659.75,25.08 L660.50,25.01 L661.25,24.94 L662.00,24.87 L662.75,24.81 L663.50,24.75 L664.25,24.70 L665.00,24.65 L665.75,24.60 L666.50,24.56 L667.25,24.53 L668.00,24.50" fill="none" stroke="#b8b8b8" stroke-width="1"/>
<path d="M440.00,166.90 L440.75,166.90 L441.50,166.90 L442.25,166.90 L443.00,166.90 L443.75,166.89 L444.50,166.89 L445.25,166.89 L446.00,166.88 L446.75,166.88 L447.50,166.88 L448.25,166.87 L449.00,166.87 L449.75,166.86 L450.50,166.86 L451.25,166.85 L452.00,166.84 L452.75,166.84 L453.50,166.83 L454.25,166.83 L455.00,166.82 L455.75,166.81 L456.50,166.80 L457.25,166.80 L458.00,166.79 L458.75,166.78 L459.50,166.77 L460.25,166.76 L461.00,166.74 L461.75,166.73 L462.50,166.71 L463.25,166.69 L464.00,166.68 L464.75,166.66 L465.50,166.63 L466.25,166.61 L467.00,166.59 L467.75,166.56 L468.50,166.54 L469.25,166.51 L470.00,166.48 L470.75,166.45 L471.50,166.42 L472.25,166.39 L473.00,166.36 L473.75,166.33 L474.50,166.29 L475.25,166.26 L476.00,166.22 L476.75,166.19 L477.50,166.15 L478.25,166.11 L479.00,166.07 L479.75,166.03 L480.50,165.99 L481.25,165.94 L482.00,165.90 L482.75,165.85 L483.50,165.80 L484.25,165.74 L485.00,165.68 L485.75,165.61 L486.50,165.54 L487.25,165.46 L488.00,165.38 L488.75,165.30 L489.50,165.20 L490.25,165.11 L491.00,165.01 L491.75,164.90 L492.50,164.80 L493.25,164.68 L494.00,164.57 L494.75,164.45 L495.50,164.32 L496.25,164.20 L497.00,164.06 L497.75,163.93 L498.50,163.79 L499.25,163.65 L500.00,163.51 L500.75,163.36 L501.50,163.21 L502.25,163.06 L503.00,162.90 L503.75,162.73 L504.50,162.53 L505.25,162.30 L506.00,162.06 L506.75,161.81 L507.50,161.56 L508.25,161.30 L509.00,161.04 L509.75,160.77 L510.50,160.49 L511.25,160.20 L512.00,159.90 L512.75,159.59 L513.50,159.27 L514.25,158.95 L515.00,158.61 L515.75,158.25 L516.50,157.88 L517.25,157.48 L518.00,157.05 L518.75,156.62 L519.50,156.16 L520.25,155.70 L521.00,155.22 L521.75,154.71 L522.50,154.19 L523.25,153.66 L524.00,153.12 L524.75,152.56 L525.50,151.96 L526.25,151.35 L527.00,150.73 L527.75,150.10 L528.50,149.46 L529.25,148.80 L530.00,148.14 L530.75,147.46 L531.50,146.77 L532.25,146.05 L533.00,145.30 L533.75,144.55 L534.50,143.78 L535.25,143.01 L536.00,142.22 L536.75,141.42 L537.50,140.61 L538.25,139.77 L539.00,138.93 L539.75,138.07 L540.50,137.20 L541.25,136.32 L542.00,135.43 L542.75,134.52 L543.50,133.61 L544.25,132.68 L545.00,131.75 L545.75,130.81 L546.50,129.86 L547.25,128.89 L548.00,127.92 L548.75,126.94 L549.50,125.94 L550.25,124.94 L551.00,123.94 L551.75,122.92 L552.50,121.90 L553.25,120.86 L554.00,119.83 L554.75,118.78 L555.50,117.73 L556.25,116.67 L557.00,115.60 L557.75,114.53 L558.50,113.46 L559.25,112.38 L560.00,111.29 L560.75,110.20 L561.50,109.10 L562.25,108.00 L563.00,106.89 L563.75,105.78 L564.50,104.67 L565.25,103.55 L566.00,102.43 L566.75,101.31 L567.50,100.18 L568.25,99.05 L569.00,97.92 L569.75,96.79 L570.50,95.66 L571.25,94.52 L572.00,93.39 L572.75,92.25 L573.50,91.11 L574.25,89.97 L575.00,88.83 L575.75,87.70 L576.50,86.56 L577.25,85.42 L578.00,84.29 L578.75,83.15 L579.50,82.02 L580.25,80.89 L581.00,79.76 L581.75,78.64 L582.50,77.52 L583.25,76.40 L584.00,75.29 L584.75,74.17 L585.50,73.07 L586.25,71.97 L587.00,70.88 L587.75,69.78 L588.50,68.70 L589.25,67.62 L590.00,66.56 L590.75,65.49 L591.50,64.44 L592.25,63.39 L593.00,62.35 L593.75,61.33 L594.50,60.31 L595.25,59.31 L596.00,58.31 L596.75,57.32 L597.50,56.34 L598.25,55.38 L599.00,54.43 L599.75,53.49 L600.50,52.57 L601.25,51.66 L602.00,50.76 L602.75,49.90 L603.50,49.04 L604.25,48.20 L605.00,47.37 L605.75,46.56 L606.50,45.76 L607.25,44.98 L608.00,44.22 L608.75,43.49 L609.50,42.77 L610.25,42.07 L611.00,41.39 L611.75,40.73 L612.50,40.10 L613.25,39.48 L614.00,38.88 L614.75,38.33 L615.50,37.81 L616.25,37.29 L617.00,36.79 L617.75,36.29 L618.50,35.81 L619.25,35.35 L620.00,34.89 L620.75,34.46 L621.50,34.04 L622.25,33.64 L623.00,33.25 L623.75,32.89 L624.50,32.54 L625.25,32.21 L626.00,31.89 L626.75,31.61 L627.50,31.35 L628.25,31.12 L629.00,30.90 L629.75,30.68 L630.50,30.48 L631.25,30.29 L632.00,30.10 L632.75,29.91 L633.50,29.74 L634.25,29.57 L635.00,29.40 L635.75,29.24 L636.50,29.08 L637.25,28.93 L638.00,28.78 L638.75,28.62 L639.50,28.48 L640.25,28.33 L641.00,28.18 L641.75,28.03 L642.50,27.88 L643.25,27.73 L644.00,27.58 L644.75,27.42 L645.50,27.27 L646.25,27.11 L647.00,26.96 L647.75,26.81 L648.50,26.66 L649.25,26.51 L650.00,26.37 L650.75,26.24 L651.50,26.11 L652.25,25.98 L653.00,25.87 L653.75,25.76 L654.50,25.66 L655.25,25.57 L656.00,25.49 L656.75,25.40 L657.50,25.32 L658.25,25.24 L659.00,25.16 L659.75,25.08 L660.50,25.01 L661.25,24.94 L662.00,24.87 L662.75,24.81 L663.50,24.75 L664.25,24.70 L665.00,24.65 L665.75,24.60 L666.50,24.56 L667.25,24.53 L668.00,24.50" fill="none" stroke="#333" stroke-width="1.1" stroke-dasharray="1.1 0.9"/>
<path d="M425.00,166.90 L425.75,166.90 L426.50,166.90 L427.25,166.90 L428.00,166.89 L428.75,166.89 L429.50,166.89 L430.25,166.88 L431.00,166.88 L431.75,166.87 L432.50,166.86 L433.25,166.86 L434.00,166.85 L434.75,166.84 L435.50,166.83 L436.25,166.82 L437.00,166.81 L437.75,166.80 L438.50,166.79 L439.25,166.78 L440.00,166.76 L440.75,166.74 L441.50,166.71 L442.25,166.68 L443.00,166.65 L443.75,166.61 L444.50,166.57 L445.25,166.53 L446.00,166.48 L446.75,166.44 L447.50,166.39 L448.25,166.33 L449.00,166.28 L449.75,166.22 L450.50,166.16 L451.25,166.09 L452.00,166.03 L452.75,165.96 L453.50,165.90 L454.25,165.83 L455.00,165.76 L455.75,165.68 L456.50,165.61 L457.25,165.54 L458.00,165.46 L458.75,165.38 L459.50,165.29 L460.25,165.19 L461.00,165.09 L461.75,164.98 L462.50,164.87 L463.25,164.75 L464.00,164.62 L464.75,164.48 L465.50,164.34 L466.25,164.20 L467.00,164.04 L467.75,163.88 L468.50,163.72 L469.25,163.54 L470.00,163.37 L470.75,163.18 L471.50,162.99 L472.25,162.80 L473.00,162.59 L473.75,162.38 L474.50,162.17 L475.25,161.95 L476.00,161.70 L476.75,161.41 L477.50,161.10 L478.25,160.75 L479.00,160.39 L479.75,160.01 L480.50,159.61 L481.25,159.21 L482.00,158.80 L482.75,158.40 L483.50,157.98 L484.25,157.54 L485.00,157.09 L485.75,156.61 L486.50,156.13 L487.25,155.63 L488.00,155.12 L488.75,154.59 L489.50,154.05 L490.25,153.49 L491.00,152.93 L491.75,152.35 L492.50,151.74 L493.25,151.13 L494.00,150.50 L494.75,149.86 L495.50,149.22 L496.25,148.56 L497.00,147.90 L497.75,147.23 L498.50,146.54 L499.25,145.81 L500.00,145.08 L500.75,144.34 L501.50,143.59 L502.25,142.82 L503.00,142.05 L503.75,141.27 L504.50,140.47 L505.25,139.66 L506.00,138.83 L506.75,138.00 L507.50,137.15 L508.25,136.29 L509.00,135.42 L509.75,134.54 L510.50,133.65 L511.25,132.75 L512.00,131.85 L512.75,130.93 L513.50,130.01 L514.25,129.07 L515.00,128.13 L515.75,127.18 L516.50,126.21 L517.25,125.24 L518.00,124.27 L518.75,123.29 L519.50,122.29 L520.25,121.30 L521.00,120.29 L521.75,119.28 L522.50,118.26 L523.25,117.24 L524.00,116.21 L524.75,115.18 L525.50,114.14 L526.25,113.10 L527.00,112.06 L527.75,111.01 L528.50,109.95 L529.25,108.90 L530.00,107.84 L530.75,106.78 L531.50,105.71 L532.25,104.64 L533.00,103.57 L533.75,102.51 L534.50,101.44 L535.25,100.36 L536.00,99.29 L536.75,98.22 L537.50,97.15 L538.25,96.07 L539.00,95.00 L539.75,93.93 L540.50,92.86 L541.25,91.80 L542.00,90.73 L542.75,89.67 L543.50,88.61 L544.25,87.55 L545.00,86.50 L545.75,85.44 L546.50,84.39 L547.25,83.35 L548.00,82.31 L548.75,81.27 L549.50,80.24 L550.25,79.22 L551.00,78.20 L551.75,77.18 L552.50,76.17 L553.25,75.17 L554.00,74.17 L554.75,73.18 L555.50,72.19 L556.25,71.22 L557.00,70.24 L557.75,69.28 L558.50,68.32 L559.25,67.38 L560.00,66.44 L560.75,65.51 L561.50,64.58 L562.25,63.67 L563.00,62.76 L563.75,61.87 L564.50,60.98 L565.25,60.11 L566.00,59.24 L566.75,58.38 L567.50,57.53 L568.25,56.69 L569.00,55.86 L569.75,55.04 L570.50,54.23 L571.25,53.44 L572.00,52.65 L572.75,51.87 L573.50,51.11 L574.25,50.36 L575.00,49.62 L575.75,48.90 L576.50,48.18 L577.25,47.47 L578.00,46.77 L578.75,46.09 L579.50,45.41 L580.25,44.74 L581.00,44.09 L581.75,43.46 L582.50,42.83 L583.25,42.22 L584.00,41.62 L584.75,41.03 L585.50,40.45 L586.25,39.88 L587.00,39.33 L587.75,38.79 L588.50,38.28 L589.25,37.78 L590.00,37.28 L590.75,36.80 L591.50,36.32 L592.25,35.85 L593.00,35.38 L593.75,34.93 L594.50,34.49 L595.25,34.06 L596.00,33.63 L596.75,33.22 L597.50,32.83 L598.25,32.44 L599.00,32.07 L599.75,31.72 L600.50,31.39 L601.25,31.07 L602.00,30.75 L602.75,30.44 L603.50,30.13 L604.25,29.82 L605.00,29.52 L605.75,29.23 L606.50,28.96 L607.25,28.70 L608.00,28.46 L608.75,28.23 L609.50,28.03 L610.25,27.85 L611.00,27.70 L611.75,27.55 L612.50,27.40 L613.25,27.26 L614.00,27.13 L614.75,27.00 L615.50,26.87 L616.25,26.75 L617.00,26.64 L617.75,26.53 L618.50,26.42 L619.25,26.31 L620.00,26.22 L620.75,26.12 L621.50,26.03 L622.25,25.94 L623.00,25.86 L623.75,25.78 L624.50,25.70 L625.25,25.63 L626.00,25.56 L626.75,25.50 L627.50,25.44 L628.25,25.38 L629.00,25.32 L629.75,25.27 L630.50,25.21 L631.25,25.16 L632.00,25.10 L632.75,25.05 L633.50,25.00 L634.25,24.95 L635.00,24.90 L635.75,24.86 L636.50,24.81 L637.25,24.77 L638.00,24.73 L638.75,24.69 L639.50,24.66 L640.25,24.63 L641.00,24.60 L641.75,24.57 L642.50,24.55 L643.25,24.53 L644.00,24.51 L644.75,24.50 L645.00,24.50" fill="none" stroke="#1e1e1e" stroke-width="1.1"/>
<path d="M412.00,166.90 L412.75,166.90 L413.50,166.90 L414.25,166.90 L415.00,166.90 L415.75,166.90 L416.50,166.90 L417.25,166.90 L418.00,166.90 L418.75,166.90 L419.50,166.90 L420.25,166.90 L421.00,166.90 L421.75,166.90 L422.50,166.90 L423.25,166.90 L424.00,166.90 L424.75,166.90 L425.50,166.90 L426.25,166.90 L427.00,166.90 L427.75,166.90 L428.50,166.90 L429.25,166.90 L430.00,166.90 L430.75,166.90 L431.50,166.90 L432.25,166.90 L433.00,166.90 L433.75,166.90 L434.50,166.90 L435.25,166.90 L436.00,166.90 L436.75,166.90 L437.50,166.86 L438.25,166.79 L439.00,166.69 L439.75,166.56 L440.50,166.40 L441.25,166.23 L442.00,166.03 L442.75,165.83 L443.50,165.61 L444.25,165.39 L445.00,165.17 L445.75,164.95 L446.50,164.74 L447.25,164.53 L448.00,164.33 L448.75,164.11 L449.50,163.88 L450.25,163.65 L451.00,163.41 L451.75,163.16 L452.50,162.91 L453.25,162.64 L454.00,162.37 L454.75,162.10 L455.50,161.81 L456.25,161.52 L457.00,161.23 L457.75,160.90 L458.50,160.55 L459.25,160.19 L460.00,159.82 L460.75,159.44 L461.50,159.05 L462.25,158.65 L463.00,158.23 L463.75,157.80 L464.50,157.35 L465.25,156.88 L466.00,156.40 L466.75,155.91 L467.50,155.39 L468.25,154.86 L469.00,154.31 L469.75,153.75 L470.50,153.18 L471.25,152.60 L472.00,151.97 L472.75,151.33 L473.50,150.68 L474.25,150.02 L475.00,149.34 L475.75,148.66 L476.50,147.96 L477.25,147.24 L478.00,146.51 L478.75,145.74 L479.50,144.94 L480.25,144.14 L481.00,143.32 L481.75,142.48 L482.50,141.63 L483.25,140.77 L484.00,139.87 L484.75,138.96 L485.50,138.03 L486.25,137.09 L487.00,136.12 L487.75,135.13 L488.50,134.13 L489.25,133.11 L490.00,132.08 L490.75,131.03 L491.50,129.96 L492.25,128.88 L493.00,127.78 L493.75,126.66 L494.50,125.53 L495.25,124.39 L496.00,123.23 L496.75,122.05 L497.50,120.86 L498.25,119.66 L499.00,118.45 L499.75,117.23 L500.50,115.99 L501.25,114.74 L502.00,113.48 L502.75,112.22 L503.50,110.94 L504.25,109.65 L505.00,108.36 L505.75,107.06 L506.50,105.76 L507.25,104.44 L508.00,103.13 L508.75,101.81 L509.50,100.49 L510.25,99.17 L511.00,97.84 L511.75,96.52 L512.50,95.19 L513.25,93.87 L514.00,92.54 L514.75,91.22 L515.50,89.91 L516.25,88.60 L517.00,87.30 L517.75,85.99 L518.50,84.70 L519.25,83.42 L520.00,82.14 L520.75,80.87 L521.50,79.61 L522.25,78.37 L523.00,77.14 L523.75,75.91 L524.50,74.70 L525.25,73.50 L526.00,72.32 L526.75,71.15 L527.50,69.99 L528.25,68.85 L529.00,67.73 L529.75,66.62 L530.50,65.53 L531.25,64.46 L532.00,63.40 L532.75,62.36 L533.50,61.35 L534.25,60.35 L535.00,59.37 L535.75,58.41 L536.50,57.46 L537.25,56.53 L538.00,55.62 L538.75,54.73 L539.50,53.86 L540.25,53.01 L541.00,52.18 L541.75,51.36 L542.50,50.57 L543.25,49.81 L544.00,49.06 L544.75,48.33 L545.50,47.61 L546.25,46.91 L547.00,46.22 L547.75,45.55 L548.50,44.90 L549.25,44.26 L550.00,43.65 L550.75,43.05 L551.50,42.48 L552.25,41.91 L553.00,41.37 L553.75,40.83 L554.50,40.32 L555.25,39.82 L556.00,39.33 L556.75,38.86 L557.50,38.42 L558.25,38.00 L559.00,37.59 L559.75,37.19 L560.50,36.79 L561.25,36.40 L562.00,36.02 L562.75,35.65 L563.50,35.28 L564.25,34.93 L565.00,34.58 L565.75,34.24 L566.50,33.92 L567.25,33.60 L568.00,33.29 L568.75,33.00 L569.50,32.71 L570.25,32.44 L571.00,32.18 L571.75,31.92 L572.50,31.69 L573.25,31.46 L574.00,31.26 L574.75,31.06 L575.50,30.86 L576.25,30.68 L577.00,30.50 L577.75,30.32 L578.50,30.15 L579.25,29.98 L580.00,29.81 L580.75,29.65 L581.50,29.50 L582.25,29.34 L583.00,29.19 L583.75,29.04 L584.50,28.90 L585.25,28.75 L586.00,28.61 L586.75,28.47 L587.50,28.33 L588.25,28.19 L589.00,28.04 L589.75,27.90 L590.50,27.76 L591.25,27.62 L592.00,27.47 L592.75,27.32 L593.50,27.17 L594.25,27.02 L595.00,26.87 L595.75,26.72 L596.50,26.57 L597.25,26.43 L598.00,26.29 L598.75,26.15 L599.50,26.02 L600.25,25.90 L601.00,25.78 L601.75,25.67 L602.50,25.57 L603.25,25.47 L604.00,25.39 L604.75,25.32 L605.50,25.26 L606.25,25.20 L607.00,25.14 L607.75,25.08 L608.50,25.02 L609.25,24.97 L610.00,24.91 L610.75,24.86 L611.50,24.81 L612.25,24.76 L613.00,24.72 L613.75,24.68 L614.50,24.64 L615.25,24.61 L616.00,24.58 L616.75,24.55 L617.50,24.53 L618.25,24.52 L619.00,24.51 L619.75,24.50 L620.00,24.50" fill="none" stroke="#1e1e1e" stroke-width="1.1" stroke-dasharray="9 1.6 0.5 1.6"/>
<line x1="393.5" y1="19.1" x2="393.5" y2="171.2" stroke="#555555" stroke-width="1"/>
<line x1="393.5" y1="171.2" x2="684" y2="171.2" stroke="#555555" stroke-width="1"/>
<line x1="389.5" y1="166.90" x2="393.5" y2="166.90" stroke="#555555" stroke-width="1"/>
<text x="386.00" y="171.80" font-family='"Liberation Sans", sans-serif' font-size="12.2" font-weight="normal" text-anchor="end" fill="#1a1a1a" stroke="#1a1a1a" stroke-width="0.25" xml:space="preserve">0</text>
<line x1="389.5" y1="138.42" x2="393.5" y2="138.42" stroke="#555555" stroke-width="1"/>
<text x="386.00" y="143.32" font-family='"Liberation Sans", sans-serif' font-size="12.2" font-weight="normal" text-anchor="end" fill="#1a1a1a" stroke="#1a1a1a" stroke-width="0.25" xml:space="preserve">.2</text>
<line x1="389.5" y1="109.94" x2="393.5" y2="109.94" stroke="#555555" stroke-width="1"/>
<text x="386.00" y="114.84" font-family='"Liberation Sans", sans-serif' font-size="12.2" font-weight="normal" text-anchor="end" fill="#1a1a1a" stroke="#1a1a1a" stroke-width="0.25" xml:space="preserve">.4</text>
<line x1="389.5" y1="81.46" x2="393.5" y2="81.46" stroke="#555555" stroke-width="1"/>
<text x="386.00" y="86.36" font-family='"Liberation Sans", sans-serif' font-size="12.2" font-weight="normal" text-anchor="end" fill="#1a1a1a" stroke="#1a1a1a" stroke-width="0.25" xml:space="preserve">.6</text>
<line x1="389.5" y1="52.98" x2="393.5" y2="52.98" stroke="#555555" stroke-width="1"/>
<text x="386.00" y="57.88" font-family='"Liberation Sans", sans-serif' font-size="12.2" font-weight="normal" text-anchor="end" fill="#1a1a1a" stroke="#1a1a1a" stroke-width="0.25" xml:space="preserve">.8</text>
<line x1="389.5" y1="24.50" x2="393.5" y2="24.50" stroke="#555555" stroke-width="1"/>
<text x="384.00" y="29.40" font-family='"Liberation Sans", sans-serif' font-size="12.2" font-weight="normal" text-anchor="end" fill="#1a1a1a" stroke="#1a1a1a" stroke-width="0.25" xml:space="preserve">1</text>
<line x1="398.10" y1="171.2" x2="398.10" y2="175.2" stroke="#555555" stroke-width="1"/>
<text x="398.10" y="188.5" font-family='"Liberation Sans", sans-serif' font-size="12.2" font-weight="normal" text-anchor="middle" fill="#1a1a1a" stroke="#1a1a1a" stroke-width="0.25" xml:space="preserve">5</text>
<line x1="487.90" y1="171.2" x2="487.90" y2="175.2" stroke="#555555" stroke-width="1"/>
<text x="487.90" y="188.5" font-family='"Liberation Sans", sans-serif' font-size="12.2" font-weight="normal" text-anchor="middle" fill="#1a1a1a" stroke="#1a1a1a" stroke-width="0.25" xml:space="preserve">6</text>
<line x1="577.70" y1="171.2" x2="577.70" y2="175.2" stroke="#555555" stroke-width="1"/>
<text x="577.70" y="188.5" font-family='"Liberation Sans", sans-serif' font-size="12.2" font-weight="normal" text-anchor="middle" fill="#1a1a1a" stroke="#1a1a1a" stroke-width="0.25" xml:space="preserve">7</text>
<line x1="667.50" y1="171.2" x2="667.50" y2="175.2" stroke="#555555" stroke-width="1"/>
<text x="667.50" y="188.5" font-family='"Liberation Sans", sans-serif' font-size="12.2" font-weight="normal" text-anchor="middle" fill="#1a1a1a" stroke="#1a1a1a" stroke-width="0.25" xml:space="preserve">8</text>
<text x="359.3" y="13.5" font-family='"Liberation Serif", serif' font-size="15" font-weight="bold" text-anchor="start" fill="#111" stroke="#111" stroke-width="0.25" xml:space="preserve">(b)</text>
<text x="443.2" y="14.6" font-family='"Liberation Sans", sans-serif' font-size="13" font-weight="normal" text-anchor="start" fill="#1a1a1a" stroke="#1a1a1a" stroke-width="0.25" textLength="213" lengthAdjust="spacingAndGlyphs" xml:space="preserve">Cumulative Distribution Plots at q(.5)</text>
<text x="486.0" y="207.5" font-family='"Liberation Sans", sans-serif' font-size="13" font-weight="normal" text-anchor="start" fill="#1a1a1a" stroke="#1a1a1a" stroke-width="0.25" textLength="146.4" lengthAdjust="spacingAndGlyphs" xml:space="preserve">Per–Capita Consumption</text>
<g transform="translate(366.5,96.5) rotate(-90)"><text x="0" y="0" font-family='"Liberation Sans", sans-serif' font-size="13" font-weight="normal" text-anchor="middle" fill="#1a1a1a" stroke="#1a1a1a" stroke-width="0.25" textLength="128" lengthAdjust="spacingAndGlyphs" xml:space="preserve">Cumulative Probability</text></g>
<rect x="396.0" y="213.3" width="284.6" height="26.799999999999983" fill="#fff" stroke="#8a8a8a" stroke-width="1.3"/>
<line x1="399.3" y1="220.6" x2="429.0" y2="220.6" stroke="#1e1e1e" stroke-width="1.1"/>
<line x1="399.3" y1="232.8" x2="429.0" y2="232.8" stroke="#2a2a2a" stroke-width="1.1" stroke-dasharray="1.1 1.65"/>
<line x1="550.0" y1="220.6" x2="580.0" y2="220.6" stroke="#1e1e1e" stroke-width="1.1" stroke-dasharray="5.2 2.2"/>
<line x1="550.0" y1="232.8" x2="580.0" y2="232.8" stroke="#1e1e1e" stroke-width="1.1" stroke-dasharray="10.2 2.2 0.6 2.2"/>
<text x="433.5" y="223.80" font-family='"Liberation Sans", sans-serif' font-size="8.4" font-weight="normal" text-anchor="start" fill="#1a1a1a" stroke="#1a1a1a" stroke-width="0.25" textLength="88.2" lengthAdjust="spacingAndGlyphs" xml:space="preserve">c.d.f. of  Self–employed</text>
<text x="433.5" y="236.00" font-family='"Liberation Sans", sans-serif' font-size="8.4" font-weight="normal" text-anchor="start" fill="#1a1a1a" stroke="#1a1a1a" stroke-width="0.25" textLength="106.6" lengthAdjust="spacingAndGlyphs" xml:space="preserve">c.d.f. of  Salaried Employees</text>
<text x="584.2" y="223.80" font-family='"Liberation Sans", sans-serif' font-size="8.4" font-weight="normal" text-anchor="start" fill="#1a1a1a" stroke="#1a1a1a" stroke-width="0.25" textLength="72.2" lengthAdjust="spacingAndGlyphs" xml:space="preserve">c.d.f. of  Employers</text>
<text x="584.2" y="236.00" font-family='"Liberation Sans", sans-serif' font-size="8.4" font-weight="normal" text-anchor="start" fill="#1a1a1a" stroke="#1a1a1a" stroke-width="0.25" textLength="93.5" lengthAdjust="spacingAndGlyphs" xml:space="preserve">c.d.f. of  Casual Laborers</text>
<line x1="39.2" y1="435.70" x2="330" y2="435.70" stroke="#b4b4b4" stroke-width="1"/>
<line x1="39.2" y1="407.24" x2="330" y2="407.24" stroke="#b4b4b4" stroke-width="1"/>
<line x1="39.2" y1="378.78" x2="330" y2="378.78" stroke="#b4b4b4" stroke-width="1"/>
<line x1="39.2" y1="350.32" x2="330" y2="350.32" stroke="#b4b4b4" stroke-width="1"/>
<line x1="39.2" y1="321.86" x2="330" y2="321.86" stroke="#b4b4b4" stroke-width="1"/>
<line x1="39.2" y1="293.40" x2="330" y2="293.40" stroke="#b4b4b4" stroke-width="1"/>
<path d="M167.30,435.40 L173.10,433.30 L179.00,432.20 L186.30,430.00 L192.10,429.20 L198.00,428.10 L203.80,425.60 L207.40,421.20 L211.10,416.10 L214.00,413.20 L216.90,411.70 L219.10,408.80 L220.60,404.40 L222.80,400.00 L225.00,395.70 L227.20,391.30 L230.10,387.60 L233.70,383.20 L235.90,379.60 L237.40,375.20 L239.60,370.80 L242.50,365.00 L245.50,362.50 L249.40,359.40 L251.70,353.20 L253.30,347.00 L257.20,341.60 L261.10,336.10 L266.50,332.30 L269.60,326.80 L271.90,320.60 L275.00,316.00 L278.10,312.10 L282.80,309.00 L287.50,305.10 L291.30,301.20 L295.20,299.20 L301.40,298.60 L306.10,296.50 L309.20,295.00 L312.30,293.90 L322.00,293.50" fill="none" stroke="#1e1e1e" stroke-width="1.1" stroke-dasharray="5.2 2.2"/>
<path d="M100.00,435.70 L100.75,435.70 L101.50,435.70 L102.25,435.70 L103.00,435.69 L103.75,435.69 L104.50,435.68 L105.25,435.68 L106.00,435.67 L106.75,435.67 L107.50,435.66 L108.25,435.66 L109.00,435.65 L109.75,435.64 L110.50,435.63 L111.25,435.63 L112.00,435.62 L112.75,435.61 L113.50,435.60 L114.25,435.60 L115.00,435.59 L115.75,435.58 L116.50,435.57 L117.25,435.56 L118.00,435.55 L118.75,435.54 L119.50,435.53 L120.25,435.52 L121.00,435.50 L121.75,435.49 L122.50,435.48 L123.25,435.46 L124.00,435.45 L124.75,435.43 L125.50,435.42 L126.25,435.40 L127.00,435.38 L127.75,435.36 L128.50,435.34 L129.25,435.32 L130.00,435.30 L130.75,435.28 L131.50,435.25 L132.25,435.23 L133.00,435.20 L133.75,435.17 L134.50,435.15 L135.25,435.12 L136.00,435.09 L136.75,435.05 L137.50,435.02 L138.25,434.99 L139.00,434.95 L139.75,434.91 L140.50,434.87 L141.25,434.81 L142.00,434.73 L142.75,434.64 L143.50,434.52 L144.25,434.40 L145.00,434.26 L145.75,434.11 L146.50,433.94 L147.25,433.77 L148.00,433.59 L148.75,433.40 L149.50,433.20 L150.25,433.00 L151.00,432.79 L151.75,432.58 L152.50,432.36 L153.25,432.15 L154.00,431.93 L154.75,431.70 L155.50,431.44 L156.25,431.16 L157.00,430.87 L157.75,430.55 L158.50,430.23 L159.25,429.89 L160.00,429.56 L160.75,429.23 L161.50,428.88 L162.25,428.53 L163.00,428.16 L163.75,427.77 L164.50,427.37 L165.25,426.96 L166.00,426.52 L166.75,426.06 L167.50,425.58 L168.25,425.08 L169.00,424.56 L169.75,424.02 L170.50,423.47 L171.25,422.89 L172.00,422.30 L172.75,421.70 L173.50,421.08 L174.25,420.42 L175.00,419.75 L175.75,419.06 L176.50,418.36 L177.25,417.65 L178.00,416.93 L178.75,416.19 L179.50,415.44 L180.25,414.66 L181.00,413.85 L181.75,413.03 L182.50,412.20 L183.25,411.35 L184.00,410.49 L184.75,409.62 L185.50,408.72 L186.25,407.81 L187.00,406.89 L187.75,405.96 L188.50,405.01 L189.25,404.04 L190.00,403.06 L190.75,402.07 L191.50,401.07 L192.25,400.06 L193.00,399.04 L193.75,398.01 L194.50,396.96 L195.25,395.90 L196.00,394.83 L196.75,393.75 L197.50,392.66 L198.25,391.56 L199.00,390.45 L199.75,389.34 L200.50,388.21 L201.25,387.08 L202.00,385.93 L202.75,384.78 L203.50,383.62 L204.25,382.46 L205.00,381.29 L205.75,380.11 L206.50,378.92 L207.25,377.73 L208.00,376.54 L208.75,375.33 L209.50,374.13 L210.25,372.92 L211.00,371.70 L211.75,370.48 L212.50,369.26 L213.25,368.04 L214.00,366.81 L214.75,365.58 L215.50,364.35 L216.25,363.11 L217.00,361.88 L217.75,360.64 L218.50,359.40 L219.25,358.17 L220.00,356.93 L220.75,355.70 L221.50,354.46 L222.25,353.23 L223.00,352.00 L223.75,350.77 L224.50,349.55 L225.25,348.33 L226.00,347.11 L226.75,345.90 L227.50,344.69 L228.25,343.49 L229.00,342.29 L229.75,341.10 L230.50,339.92 L231.25,338.75 L232.00,337.58 L232.75,336.42 L233.50,335.27 L234.25,334.13 L235.00,333.00 L235.75,331.89 L236.50,330.78 L237.25,329.69 L238.00,328.61 L238.75,327.55 L239.50,326.49 L240.25,325.46 L241.00,324.43 L241.75,323.42 L242.50,322.43 L243.25,321.46 L244.00,320.50 L244.75,319.57 L245.50,318.66 L246.25,317.77 L247.00,316.90 L247.75,316.04 L248.50,315.20 L249.25,314.38 L250.00,313.58 L250.75,312.79 L251.50,312.04 L252.25,311.32 L253.00,310.63 L253.75,309.96 L254.50,309.30 L255.25,308.66 L256.00,308.03 L256.75,307.44 L257.50,306.90 L258.25,306.37 L259.00,305.86 L259.75,305.35 L260.50,304.86 L261.25,304.38 L262.00,303.92 L262.75,303.48 L263.50,303.05 L264.25,302.64 L265.00,302.26 L265.75,301.90 L266.50,301.55 L267.25,301.22 L268.00,300.90 L268.75,300.59 L269.50,300.30 L270.25,300.03 L271.00,299.78 L271.75,299.56 L272.50,299.35 L273.25,299.15 L274.00,298.96 L274.75,298.78 L275.50,298.61 L276.25,298.45 L277.00,298.29 L277.75,298.14 L278.50,297.99 L279.25,297.85 L280.00,297.71 L280.75,297.57 L281.50,297.43 L282.25,297.29 L283.00,297.15 L283.75,297.01 L284.50,296.86 L285.25,296.71 L286.00,296.56 L286.75,296.41 L287.50,296.25 L288.25,296.10 L289.00,295.94 L289.75,295.79 L290.50,295.64 L291.25,295.49 L292.00,295.34 L292.75,295.20 L293.50,295.07 L294.25,294.94 L295.00,294.81 L295.75,294.70 L296.50,294.59 L297.25,294.49 L298.00,294.40 L298.75,294.32 L299.50,294.23 L300.25,294.15 L301.00,294.07 L301.75,294.00 L302.50,293.92 L303.25,293.85 L304.00,293.79 L304.75,293.72 L305.50,293.66 L306.25,293.61 L307.00,293.55 L307.75,293.51 L308.50,293.47 L309.25,293.43 L310.00,293.40" fill="none" stroke="#b8b8b8" stroke-width="1"/>
<path d="M100.00,435.70 L100.75,435.70 L101.50,435.70 L102.25,435.70 L103.00,435.69 L103.75,435.69 L104.50,435.68 L105.25,435.68 L106.00,435.67 L106.75,435.67 L107.50,435.66 L108.25,435.66 L109.00,435.65 L109.75,435.64 L110.50,435.63 L111.25,435.63 L112.00,435.62 L112.75,435.61 L113.50,435.60 L114.25,435.60 L115.00,435.59 L115.75,435.58 L116.50,435.57 L117.25,435.56 L118.00,435.55 L118.75,435.54 L119.50,435.53 L120.25,435.52 L121.00,435.50 L121.75,435.49 L122.50,435.48 L123.25,435.46 L124.00,435.45 L124.75,435.43 L125.50,435.42 L126.25,435.40 L127.00,435.38 L127.75,435.36 L128.50,435.34 L129.25,435.32 L130.00,435.30 L130.75,435.28 L131.50,435.25 L132.25,435.23 L133.00,435.20 L133.75,435.17 L134.50,435.15 L135.25,435.12 L136.00,435.09 L136.75,435.05 L137.50,435.02 L138.25,434.99 L139.00,434.95 L139.75,434.91 L140.50,434.87 L141.25,434.81 L142.00,434.73 L142.75,434.64 L143.50,434.52 L144.25,434.40 L145.00,434.26 L145.75,434.11 L146.50,433.94 L147.25,433.77 L148.00,433.59 L148.75,433.40 L149.50,433.20 L150.25,433.00 L151.00,432.79 L151.75,432.58 L152.50,432.36 L153.25,432.15 L154.00,431.93 L154.75,431.70 L155.50,431.44 L156.25,431.16 L157.00,430.87 L157.75,430.55 L158.50,430.23 L159.25,429.89 L160.00,429.56 L160.75,429.23 L161.50,428.88 L162.25,428.53 L163.00,428.16 L163.75,427.77 L164.50,427.37 L165.25,426.96 L166.00,426.52 L166.75,426.06 L167.50,425.58 L168.25,425.08 L169.00,424.56 L169.75,424.02 L170.50,423.47 L171.25,422.89 L172.00,422.30 L172.75,421.70 L173.50,421.08 L174.25,420.42 L175.00,419.75 L175.75,419.06 L176.50,418.36 L177.25,417.65 L178.00,416.93 L178.75,416.19 L179.50,415.44 L180.25,414.66 L181.00,413.85 L181.75,413.03 L182.50,412.20 L183.25,411.35 L184.00,410.49 L184.75,409.62 L185.50,408.72 L186.25,407.81 L187.00,406.89 L187.75,405.96 L188.50,405.01 L189.25,404.04 L190.00,403.06 L190.75,402.07 L191.50,401.07 L192.25,400.06 L193.00,399.04 L193.75,398.01 L194.50,396.96 L195.25,395.90 L196.00,394.83 L196.75,393.75 L197.50,392.66 L198.25,391.56 L199.00,390.45 L199.75,389.34 L200.50,388.21 L201.25,387.08 L202.00,385.93 L202.75,384.78 L203.50,383.62 L204.25,382.46 L205.00,381.29 L205.75,380.11 L206.50,378.92 L207.25,377.73 L208.00,376.54 L208.75,375.33 L209.50,374.13 L210.25,372.92 L211.00,371.70 L211.75,370.48 L212.50,369.26 L213.25,368.04 L214.00,366.81 L214.75,365.58 L215.50,364.35 L216.25,363.11 L217.00,361.88 L217.75,360.64 L218.50,359.40 L219.25,358.17 L220.00,356.93 L220.75,355.70 L221.50,354.46 L222.25,353.23 L223.00,352.00 L223.75,350.77 L224.50,349.55 L225.25,348.33 L226.00,347.11 L226.75,345.90 L227.50,344.69 L228.25,343.49 L229.00,342.29 L229.75,341.10 L230.50,339.92 L231.25,338.75 L232.00,337.58 L232.75,336.42 L233.50,335.27 L234.25,334.13 L235.00,333.00 L235.75,331.89 L236.50,330.78 L237.25,329.69 L238.00,328.61 L238.75,327.55 L239.50,326.49 L240.25,325.46 L241.00,324.43 L241.75,323.42 L242.50,322.43 L243.25,321.46 L244.00,320.50 L244.75,319.57 L245.50,318.66 L246.25,317.77 L247.00,316.90 L247.75,316.04 L248.50,315.20 L249.25,314.38 L250.00,313.58 L250.75,312.79 L251.50,312.04 L252.25,311.32 L253.00,310.63 L253.75,309.96 L254.50,309.30 L255.25,308.66 L256.00,308.03 L256.75,307.44 L257.50,306.90 L258.25,306.37 L259.00,305.86 L259.75,305.35 L260.50,304.86 L261.25,304.38 L262.00,303.92 L262.75,303.48 L263.50,303.05 L264.25,302.64 L265.00,302.26 L265.75,301.90 L266.50,301.55 L267.25,301.22 L268.00,300.90 L268.75,300.59 L269.50,300.30 L270.25,300.03 L271.00,299.78 L271.75,299.56 L272.50,299.35 L273.25,299.15 L274.00,298.96 L274.75,298.78 L275.50,298.61 L276.25,298.45 L277.00,298.29 L277.75,298.14 L278.50,297.99 L279.25,297.85 L280.00,297.71 L280.75,297.57 L281.50,297.43 L282.25,297.29 L283.00,297.15 L283.75,297.01 L284.50,296.86 L285.25,296.71 L286.00,296.56 L286.75,296.41 L287.50,296.25 L288.25,296.10 L289.00,295.94 L289.75,295.79 L290.50,295.64 L291.25,295.49 L292.00,295.34 L292.75,295.20 L293.50,295.07 L294.25,294.94 L295.00,294.81 L295.75,294.70 L296.50,294.59 L297.25,294.49 L298.00,294.40 L298.75,294.32 L299.50,294.23 L300.25,294.15 L301.00,294.07 L301.75,294.00 L302.50,293.92 L303.25,293.85 L304.00,293.79 L304.75,293.72 L305.50,293.66 L306.25,293.61 L307.00,293.55 L307.75,293.51 L308.50,293.47 L309.25,293.43 L310.00,293.40" fill="none" stroke="#333" stroke-width="1.1" stroke-dasharray="1.1 0.9"/>
<path d="M90.00,435.70 L90.75,435.70 L91.50,435.70 L92.25,435.69 L93.00,435.69 L93.75,435.69 L94.50,435.68 L95.25,435.67 L96.00,435.67 L96.75,435.66 L97.50,435.65 L98.25,435.64 L99.00,435.63 L99.75,435.62 L100.50,435.61 L101.25,435.60 L102.00,435.59 L102.75,435.58 L103.50,435.57 L104.25,435.55 L105.00,435.53 L105.75,435.51 L106.50,435.49 L107.25,435.47 L108.00,435.44 L108.75,435.42 L109.50,435.39 L110.25,435.35 L111.00,435.32 L111.75,435.29 L112.50,435.25 L113.25,435.21 L114.00,435.16 L114.75,435.12 L115.50,435.07 L116.25,435.02 L117.00,434.97 L117.75,434.92 L118.50,434.86 L119.25,434.80 L120.00,434.74 L120.75,434.67 L121.50,434.60 L122.25,434.53 L123.00,434.46 L123.75,434.34 L124.50,434.19 L125.25,434.01 L126.00,433.80 L126.75,433.56 L127.50,433.30 L128.25,433.03 L129.00,432.73 L129.75,432.43 L130.50,432.11 L131.25,431.79 L132.00,431.46 L132.75,431.14 L133.50,430.82 L134.25,430.51 L135.00,430.19 L135.75,429.87 L136.50,429.54 L137.25,429.20 L138.00,428.84 L138.75,428.46 L139.50,428.06 L140.25,427.64 L141.00,427.20 L141.75,426.72 L142.50,426.20 L143.25,425.65 L144.00,425.06 L144.75,424.45 L145.50,423.81 L146.25,423.15 L147.00,422.48 L147.75,421.81 L148.50,421.10 L149.25,420.33 L150.00,419.55 L150.75,418.76 L151.50,417.95 L152.25,417.12 L153.00,416.29 L153.75,415.44 L154.50,414.55 L155.25,413.65 L156.00,412.73 L156.75,411.81 L157.50,410.87 L158.25,409.92 L159.00,408.96 L159.75,407.98 L160.50,407.00 L161.25,406.01 L162.00,405.00 L162.75,403.99 L163.50,402.97 L164.25,401.94 L165.00,400.91 L165.75,399.86 L166.50,398.82 L167.25,397.77 L168.00,396.71 L168.75,395.64 L169.50,394.57 L170.25,393.49 L171.00,392.41 L171.75,391.33 L172.50,390.24 L173.25,389.15 L174.00,388.05 L174.75,386.96 L175.50,385.85 L176.25,384.75 L177.00,383.64 L177.75,382.53 L178.50,381.42 L179.25,380.31 L180.00,379.19 L180.75,378.07 L181.50,376.95 L182.25,375.83 L183.00,374.71 L183.75,373.59 L184.50,372.46 L185.25,371.34 L186.00,370.22 L186.75,369.09 L187.50,367.97 L188.25,366.84 L189.00,365.72 L189.75,364.59 L190.50,363.47 L191.25,362.35 L192.00,361.22 L192.75,360.10 L193.50,358.98 L194.25,357.86 L195.00,356.75 L195.75,355.63 L196.50,354.52 L197.25,353.41 L198.00,352.30 L198.75,351.19 L199.50,350.09 L200.25,348.98 L201.00,347.89 L201.75,346.79 L202.50,345.70 L203.25,344.61 L204.00,343.53 L204.75,342.45 L205.50,341.37 L206.25,340.30 L207.00,339.23 L207.75,338.17 L208.50,337.11 L209.25,336.07 L210.00,335.02 L210.75,333.98 L211.50,332.95 L212.25,331.92 L213.00,330.91 L213.75,329.90 L214.50,328.90 L215.25,327.90 L216.00,326.92 L216.75,325.94 L217.50,324.97 L218.25,324.01 L219.00,323.06 L219.75,322.13 L220.50,321.20 L221.25,320.28 L222.00,319.38 L222.75,318.50 L223.50,317.64 L224.25,316.78 L225.00,315.93 L225.75,315.10 L226.50,314.28 L227.25,313.47 L228.00,312.68 L228.75,311.92 L229.50,311.18 L230.25,310.46 L231.00,309.76 L231.75,309.07 L232.50,308.40 L233.25,307.74 L234.00,307.14 L234.75,306.56 L235.50,305.99 L236.25,305.43 L237.00,304.89 L237.75,304.36 L238.50,303.85 L239.25,303.36 L240.00,302.89 L240.75,302.45 L241.50,302.03 L242.25,301.63 L243.00,301.25 L243.75,300.89 L244.50,300.54 L245.25,300.22 L246.00,299.92 L246.75,299.64 L247.50,299.40 L248.25,299.17 L249.00,298.95 L249.75,298.75 L250.50,298.55 L251.25,298.37 L252.00,298.19 L252.75,298.01 L253.50,297.85 L254.25,297.68 L255.00,297.53 L255.75,297.37 L256.50,297.21 L257.25,297.06 L258.00,296.90 L258.75,296.74 L259.50,296.58 L260.25,296.42 L261.00,296.25 L261.75,296.09 L262.50,295.93 L263.25,295.77 L264.00,295.61 L264.75,295.46 L265.50,295.31 L266.25,295.16 L267.00,295.02 L267.75,294.89 L268.50,294.77 L269.25,294.65 L270.00,294.54 L270.75,294.44 L271.50,294.35 L272.25,294.27 L273.00,294.20 L273.75,294.13 L274.50,294.05 L275.25,293.98 L276.00,293.92 L276.75,293.85 L277.50,293.79 L278.25,293.73 L279.00,293.67 L279.75,293.62 L280.50,293.57 L281.25,293.53 L282.00,293.49 L282.75,293.46 L283.50,293.43 L284.25,293.41 L285.00,293.40" fill="none" stroke="#1e1e1e" stroke-width="1.1"/>
<path d="M77.00,435.70 L77.75,435.70 L78.50,435.70 L79.25,435.70 L80.00,435.70 L80.75,435.70 L81.50,435.70 L82.25,435.70 L83.00,435.70 L83.75,435.70 L84.50,435.70 L85.25,435.70 L86.00,435.70 L86.75,435.70 L87.50,435.70 L88.25,435.70 L89.00,435.70 L89.75,435.70 L90.50,435.70 L91.25,435.70 L92.00,435.70 L92.75,435.70 L93.50,435.70 L94.25,435.70 L95.00,435.70 L95.75,435.70 L96.50,435.70 L97.25,435.68 L98.00,435.63 L98.75,435.57 L99.50,435.48 L100.25,435.37 L101.00,435.24 L101.75,435.09 L102.50,434.93 L103.25,434.76 L104.00,434.58 L104.75,434.38 L105.50,434.18 L106.25,433.97 L107.00,433.76 L107.75,433.54 L108.50,433.32 L109.25,433.10 L110.00,432.89 L110.75,432.67 L111.50,432.43 L112.25,432.17 L113.00,431.89 L113.75,431.59 L114.50,431.27 L115.25,430.94 L116.00,430.60 L116.75,430.24 L117.50,429.88 L118.25,429.51 L119.00,429.13 L119.75,428.74 L120.50,428.32 L121.25,427.86 L122.00,427.40 L122.75,426.90 L123.50,426.37 L124.25,425.83 L125.00,425.27 L125.75,424.70 L126.50,424.11 L127.25,423.51 L128.00,422.90 L128.75,422.27 L129.50,421.63 L130.25,420.94 L131.00,420.21 L131.75,419.46 L132.50,418.70 L133.25,417.92 L134.00,417.12 L134.75,416.31 L135.50,415.47 L136.25,414.60 L137.00,413.69 L137.75,412.77 L138.50,411.82 L139.25,410.85 L140.00,409.87 L140.75,408.85 L141.50,407.82 L142.25,406.76 L143.00,405.68 L143.75,404.58 L144.50,403.45 L145.25,402.30 L146.00,401.14 L146.75,399.95 L147.50,398.76 L148.25,397.54 L149.00,396.30 L149.75,395.04 L150.50,393.76 L151.25,392.47 L152.00,391.17 L152.75,389.85 L153.50,388.51 L154.25,387.17 L155.00,385.81 L155.75,384.44 L156.50,383.06 L157.25,381.67 L158.00,380.28 L158.75,378.87 L159.50,377.46 L160.25,376.04 L161.00,374.62 L161.75,373.20 L162.50,371.77 L163.25,370.35 L164.00,368.92 L164.75,367.49 L165.50,366.06 L166.25,364.64 L167.00,363.22 L167.75,361.80 L168.50,360.39 L169.25,358.98 L170.00,357.59 L170.75,356.20 L171.50,354.82 L172.25,353.44 L173.00,352.08 L173.75,350.73 L174.50,349.39 L175.25,348.06 L176.00,346.75 L176.75,345.45 L177.50,344.16 L178.25,342.88 L179.00,341.63 L179.75,340.39 L180.50,339.16 L181.25,337.95 L182.00,336.76 L182.75,335.59 L183.50,334.43 L184.25,333.29 L185.00,332.17 L185.75,331.07 L186.50,329.99 L187.25,328.93 L188.00,327.89 L188.75,326.87 L189.50,325.86 L190.25,324.87 L191.00,323.90 L191.75,322.95 L192.50,322.03 L193.25,321.12 L194.00,320.23 L194.75,319.36 L195.50,318.53 L196.25,317.71 L197.00,316.90 L197.75,316.11 L198.50,315.34 L199.25,314.58 L200.00,313.83 L200.75,313.11 L201.50,312.40 L202.25,311.73 L203.00,311.07 L203.75,310.44 L204.50,309.82 L205.25,309.21 L206.00,308.61 L206.75,308.03 L207.50,307.46 L208.25,306.95 L209.00,306.44 L209.75,305.93 L210.50,305.44 L211.25,304.95 L212.00,304.48 L212.75,304.02 L213.50,303.57 L214.25,303.13 L215.00,302.71 L215.75,302.30 L216.50,301.90 L217.25,301.53 L218.00,301.16 L218.75,300.81 L219.50,300.47 L220.25,300.14 L221.00,299.83 L221.75,299.54 L222.50,299.26 L223.25,298.98 L224.00,298.71 L224.75,298.44 L225.50,298.18 L226.25,297.93 L227.00,297.70 L227.75,297.48 L228.50,297.27 L229.25,297.07 L230.00,296.90 L230.75,296.74 L231.50,296.58 L232.25,296.42 L233.00,296.28 L233.75,296.13 L234.50,295.99 L235.25,295.86 L236.00,295.72 L236.75,295.60 L237.50,295.48 L238.25,295.36 L239.00,295.24 L239.75,295.14 L240.50,295.03 L241.25,294.93 L242.00,294.84 L242.75,294.75 L243.50,294.66 L244.25,294.58 L245.00,294.50 L245.75,294.43 L246.50,294.35 L247.25,294.28 L248.00,294.21 L248.75,294.14 L249.50,294.07 L250.25,294.00 L251.00,293.94 L251.75,293.88 L252.50,293.82 L253.25,293.76 L254.00,293.71 L254.75,293.66 L255.50,293.61 L256.25,293.56 L257.00,293.52 L257.75,293.49 L258.50,293.45 L259.25,293.42 L260.00,293.40" fill="none" stroke="#1e1e1e" stroke-width="1.1" stroke-dasharray="9 1.6 0.5 1.6"/>
<line x1="39.2" y1="288.1" x2="39.2" y2="440.2" stroke="#555555" stroke-width="1"/>
<line x1="39.2" y1="440.2" x2="330" y2="440.2" stroke="#555555" stroke-width="1"/>
<line x1="35.2" y1="435.70" x2="39.2" y2="435.70" stroke="#555555" stroke-width="1"/>
<text x="31.60" y="439.60" font-family='"Liberation Sans", sans-serif' font-size="12.2" font-weight="normal" text-anchor="end" fill="#1a1a1a" stroke="#1a1a1a" stroke-width="0.25" xml:space="preserve">0</text>
<line x1="35.2" y1="407.24" x2="39.2" y2="407.24" stroke="#555555" stroke-width="1"/>
<text x="31.60" y="411.14" font-family='"Liberation Sans", sans-serif' font-size="12.2" font-weight="normal" text-anchor="end" fill="#1a1a1a" stroke="#1a1a1a" stroke-width="0.25" xml:space="preserve">.2</text>
<line x1="35.2" y1="378.78" x2="39.2" y2="378.78" stroke="#555555" stroke-width="1"/>
<text x="31.60" y="382.68" font-family='"Liberation Sans", sans-serif' font-size="12.2" font-weight="normal" text-anchor="end" fill="#1a1a1a" stroke="#1a1a1a" stroke-width="0.25" xml:space="preserve">.4</text>
<line x1="35.2" y1="350.32" x2="39.2" y2="350.32" stroke="#555555" stroke-width="1"/>
<text x="31.60" y="354.22" font-family='"Liberation Sans", sans-serif' font-size="12.2" font-weight="normal" text-anchor="end" fill="#1a1a1a" stroke="#1a1a1a" stroke-width="0.25" xml:space="preserve">.6</text>
<line x1="35.2" y1="321.86" x2="39.2" y2="321.86" stroke="#555555" stroke-width="1"/>
<text x="31.60" y="325.76" font-family='"Liberation Sans", sans-serif' font-size="12.2" font-weight="normal" text-anchor="end" fill="#1a1a1a" stroke="#1a1a1a" stroke-width="0.25" xml:space="preserve">.8</text>
<line x1="35.2" y1="293.40" x2="39.2" y2="293.40" stroke="#555555" stroke-width="1"/>
<text x="30.80" y="297.30" font-family='"Liberation Sans", sans-serif' font-size="12.2" font-weight="normal" text-anchor="end" fill="#1a1a1a" stroke="#1a1a1a" stroke-width="0.25" xml:space="preserve">1</text>
<line x1="43.70" y1="440.2" x2="43.70" y2="444.2" stroke="#555555" stroke-width="1"/>
<text x="43.70" y="457.4" font-family='"Liberation Sans", sans-serif' font-size="12.2" font-weight="normal" text-anchor="middle" fill="#1a1a1a" stroke="#1a1a1a" stroke-width="0.25" xml:space="preserve">5</text>
<line x1="113.98" y1="440.2" x2="113.98" y2="444.2" stroke="#555555" stroke-width="1"/>
<text x="113.98" y="457.4" font-family='"Liberation Sans", sans-serif' font-size="12.2" font-weight="normal" text-anchor="middle" fill="#1a1a1a" stroke="#1a1a1a" stroke-width="0.25" xml:space="preserve">6</text>
<line x1="184.25" y1="440.2" x2="184.25" y2="444.2" stroke="#555555" stroke-width="1"/>
<text x="184.25" y="457.4" font-family='"Liberation Sans", sans-serif' font-size="12.2" font-weight="normal" text-anchor="middle" fill="#1a1a1a" stroke="#1a1a1a" stroke-width="0.25" xml:space="preserve">7</text>
<line x1="254.53" y1="440.2" x2="254.53" y2="444.2" stroke="#555555" stroke-width="1"/>
<text x="254.53" y="457.4" font-family='"Liberation Sans", sans-serif' font-size="12.2" font-weight="normal" text-anchor="middle" fill="#1a1a1a" stroke="#1a1a1a" stroke-width="0.25" xml:space="preserve">8</text>
<line x1="324.80" y1="440.2" x2="324.80" y2="444.2" stroke="#555555" stroke-width="1"/>
<text x="324.80" y="457.4" font-family='"Liberation Sans", sans-serif' font-size="12.2" font-weight="normal" text-anchor="middle" fill="#1a1a1a" stroke="#1a1a1a" stroke-width="0.25" xml:space="preserve">9</text>
<text x="5.5" y="285.3" font-family='"Liberation Serif", serif' font-size="15" font-weight="bold" text-anchor="start" fill="#111" stroke="#111" stroke-width="0.25" xml:space="preserve">(c)</text>
<text x="78.1" y="283.9" font-family='"Liberation Sans", sans-serif' font-size="13" font-weight="normal" text-anchor="start" fill="#1a1a1a" stroke="#1a1a1a" stroke-width="0.25" textLength="220.3" lengthAdjust="spacingAndGlyphs" xml:space="preserve">Cumulative Distribution Plots at q(.75)</text>
<text x="110.9" y="476.2" font-family='"Liberation Sans", sans-serif' font-size="13" font-weight="normal" text-anchor="start" fill="#1a1a1a" stroke="#1a1a1a" stroke-width="0.25" textLength="146.6" lengthAdjust="spacingAndGlyphs" xml:space="preserve">Per–Capita Consumption</text>
<g transform="translate(11.2,363.8) rotate(-90)"><text x="0" y="0" font-family='"Liberation Sans", sans-serif' font-size="13" font-weight="normal" text-anchor="middle" fill="#1a1a1a" stroke="#1a1a1a" stroke-width="0.25" textLength="129.5" lengthAdjust="spacingAndGlyphs" xml:space="preserve">Cumulative Probability</text></g>
<rect x="42.0" y="486.0" width="285.0" height="26.5" fill="#fff" stroke="#8a8a8a" stroke-width="1.3"/>
<line x1="45.3" y1="493.2" x2="75.3" y2="493.2" stroke="#1e1e1e" stroke-width="1.1"/>
<line x1="45.3" y1="505.4" x2="75.3" y2="505.4" stroke="#2a2a2a" stroke-width="1.1" stroke-dasharray="1.1 1.65"/>
<line x1="195.6" y1="493.2" x2="226.0" y2="493.2" stroke="#1e1e1e" stroke-width="1.1" stroke-dasharray="5.2 2.2"/>
<line x1="195.6" y1="505.4" x2="226.0" y2="505.4" stroke="#1e1e1e" stroke-width="1.1" stroke-dasharray="10.2 2.2 0.6 2.2"/>
<text x="79.6" y="496.40" font-family='"Liberation Sans", sans-serif' font-size="8.4" font-weight="normal" text-anchor="start" fill="#1a1a1a" stroke="#1a1a1a" stroke-width="0.25" textLength="88.2" lengthAdjust="spacingAndGlyphs" xml:space="preserve">c.d.f. of  Self–employed</text>
<text x="79.6" y="508.60" font-family='"Liberation Sans", sans-serif' font-size="8.4" font-weight="normal" text-anchor="start" fill="#1a1a1a" stroke="#1a1a1a" stroke-width="0.25" textLength="106.6" lengthAdjust="spacingAndGlyphs" xml:space="preserve">c.d.f. of  Salaried Employees</text>
<text x="230.0" y="496.40" font-family='"Liberation Sans", sans-serif' font-size="8.4" font-weight="normal" text-anchor="start" fill="#1a1a1a" stroke="#1a1a1a" stroke-width="0.25" textLength="72.2" lengthAdjust="spacingAndGlyphs" xml:space="preserve">c.d.f. of  Employers</text>
<text x="230.0" y="508.60" font-family='"Liberation Sans", sans-serif' font-size="8.4" font-weight="normal" text-anchor="start" fill="#1a1a1a" stroke="#1a1a1a" stroke-width="0.25" textLength="93.5" lengthAdjust="spacingAndGlyphs" xml:space="preserve">c.d.f. of  Casual Laborers</text>
<line x1="393.0" y1="434.30" x2="684.3" y2="434.30" stroke="#b4b4b4" stroke-width="1"/>
<line x1="393.0" y1="405.72" x2="684.3" y2="405.72" stroke="#b4b4b4" stroke-width="1"/>
<line x1="393.0" y1="377.14" x2="684.3" y2="377.14" stroke="#b4b4b4" stroke-width="1"/>
<line x1="393.0" y1="348.56" x2="684.3" y2="348.56" stroke="#b4b4b4" stroke-width="1"/>
<line x1="393.0" y1="319.98" x2="684.3" y2="319.98" stroke="#b4b4b4" stroke-width="1"/>
<line x1="393.0" y1="291.40" x2="684.3" y2="291.40" stroke="#b4b4b4" stroke-width="1"/>
<path d="M520.80,434.00 L526.70,432.20 L534.00,430.70 L541.30,428.80 L547.10,428.20 L553.00,426.80 L558.10,424.90 L561.70,420.50 L565.40,413.90 L569.00,411.70 L571.90,409.50 L574.10,405.90 L575.60,402.20 L577.80,397.80 L580.70,392.70 L583.60,388.40 L587.30,384.00 L590.20,379.60 L591.60,373.80 L593.80,369.40 L596.00,366.50 L596.60,362.90 L600.50,359.80 L603.60,357.40 L605.20,351.20 L606.70,345.00 L611.40,339.60 L616.10,333.40 L621.50,328.70 L624.60,324.00 L626.90,317.80 L630.00,312.40 L633.10,309.30 L637.80,307.00 L642.50,303.10 L646.30,299.20 L650.20,297.60 L656.40,296.90 L661.10,294.50 L664.20,293.00 L667.30,291.90 L684.00,291.50" fill="none" stroke="#1e1e1e" stroke-width="1.1" stroke-dasharray="5.2 2.2"/>
<path d="M455.00,434.30 L455.75,434.30 L456.50,434.30 L457.25,434.30 L458.00,434.29 L458.75,434.29 L459.50,434.29 L460.25,434.28 L461.00,434.28 L461.75,434.27 L462.50,434.26 L463.25,434.26 L464.00,434.25 L464.75,434.24 L465.50,434.24 L466.25,434.23 L467.00,434.22 L467.75,434.21 L468.50,434.20 L469.25,434.19 L470.00,434.19 L470.75,434.18 L471.50,434.17 L472.25,434.16 L473.00,434.15 L473.75,434.14 L474.50,434.12 L475.25,434.11 L476.00,434.10 L476.75,434.08 L477.50,434.07 L478.25,434.05 L479.00,434.04 L479.75,434.02 L480.50,434.00 L481.25,433.98 L482.00,433.96 L482.75,433.94 L483.50,433.92 L484.25,433.89 L485.00,433.87 L485.75,433.84 L486.50,433.82 L487.25,433.79 L488.00,433.76 L488.75,433.73 L489.50,433.69 L490.25,433.66 L491.00,433.62 L491.75,433.59 L492.50,433.55 L493.25,433.51 L494.00,433.46 L494.75,433.42 L495.50,433.37 L496.25,433.29 L497.00,433.18 L497.75,433.03 L498.50,432.86 L499.25,432.67 L500.00,432.46 L500.75,432.23 L501.50,431.99 L502.25,431.74 L503.00,431.48 L503.75,431.22 L504.50,430.95 L505.25,430.69 L506.00,430.43 L506.75,430.19 L507.50,429.95 L508.25,429.72 L509.00,429.49 L509.75,429.26 L510.50,429.03 L511.25,428.79 L512.00,428.54 L512.75,428.27 L513.50,428.00 L514.25,427.70 L515.00,427.38 L515.75,427.05 L516.50,426.69 L517.25,426.32 L518.00,425.94 L518.75,425.54 L519.50,425.12 L520.25,424.68 L521.00,424.22 L521.75,423.74 L522.50,423.24 L523.25,422.74 L524.00,422.20 L524.75,421.64 L525.50,421.07 L526.25,420.48 L527.00,419.87 L527.75,419.22 L528.50,418.56 L529.25,417.89 L530.00,417.20 L530.75,416.50 L531.50,415.79 L532.25,415.07 L533.00,414.33 L533.75,413.57 L534.50,412.77 L535.25,411.96 L536.00,411.14 L536.75,410.30 L537.50,409.45 L538.25,408.59 L539.00,407.71 L539.75,406.81 L540.50,405.90 L541.25,404.98 L542.00,404.04 L542.75,403.09 L543.50,402.13 L544.25,401.15 L545.00,400.16 L545.75,399.17 L546.50,398.16 L547.25,397.14 L548.00,396.12 L548.75,395.07 L549.50,394.02 L550.25,392.96 L551.00,391.89 L551.75,390.82 L552.50,389.73 L553.25,388.63 L554.00,387.53 L554.75,386.42 L555.50,385.30 L556.25,384.17 L557.00,383.04 L557.75,381.90 L558.50,380.75 L559.25,379.60 L560.00,378.45 L560.75,377.28 L561.50,376.11 L562.25,374.94 L563.00,373.76 L563.75,372.58 L564.50,371.39 L565.25,370.20 L566.00,369.01 L566.75,367.82 L567.50,366.62 L568.25,365.42 L569.00,364.21 L569.75,363.01 L570.50,361.80 L571.25,360.59 L572.00,359.38 L572.75,358.17 L573.50,356.96 L574.25,355.75 L575.00,354.54 L575.75,353.33 L576.50,352.12 L577.25,350.91 L578.00,349.71 L578.75,348.51 L579.50,347.31 L580.25,346.11 L581.00,344.92 L581.75,343.73 L582.50,342.54 L583.25,341.36 L584.00,340.18 L584.75,339.01 L585.50,337.85 L586.25,336.69 L587.00,335.54 L587.75,334.40 L588.50,333.26 L589.25,332.13 L590.00,331.02 L590.75,329.91 L591.50,328.81 L592.25,327.73 L593.00,326.66 L593.75,325.59 L594.50,324.54 L595.25,323.51 L596.00,322.48 L596.75,321.47 L597.50,320.48 L598.25,319.51 L599.00,318.54 L599.75,317.60 L600.50,316.69 L601.25,315.80 L602.00,314.91 L602.75,314.05 L603.50,313.20 L604.25,312.37 L605.00,311.56 L605.75,310.77 L606.50,310.01 L607.25,309.28 L608.00,308.58 L608.75,307.89 L609.50,307.23 L610.25,306.58 L611.00,305.94 L611.75,305.36 L612.50,304.82 L613.25,304.29 L614.00,303.76 L614.75,303.25 L615.50,302.76 L616.25,302.28 L617.00,301.81 L617.75,301.37 L618.50,300.94 L619.25,300.54 L620.00,300.16 L620.75,299.81 L621.50,299.46 L622.25,299.13 L623.00,298.82 L623.75,298.52 L624.50,298.24 L625.25,297.98 L626.00,297.73 L626.75,297.51 L627.50,297.31 L628.25,297.12 L629.00,296.94 L629.75,296.76 L630.50,296.60 L631.25,296.44 L632.00,296.29 L632.75,296.15 L633.50,296.00 L634.25,295.87 L635.00,295.73 L635.75,295.59 L636.50,295.45 L637.25,295.32 L638.00,295.17 L638.75,295.03 L639.50,294.88 L640.25,294.72 L641.00,294.56 L641.75,294.40 L642.50,294.23 L643.25,294.06 L644.00,293.89 L644.75,293.72 L645.50,293.55 L646.25,293.39 L647.00,293.23 L647.75,293.08 L648.50,292.93 L649.25,292.80 L650.00,292.67 L650.75,292.56 L651.50,292.46 L652.25,292.37 L653.00,292.29 L653.75,292.21 L654.50,292.13 L655.25,292.05 L656.00,291.97 L656.75,291.90 L657.50,291.83 L658.25,291.77 L659.00,291.70 L659.75,291.65 L660.50,291.59 L661.25,291.55 L662.00,291.50 L662.75,291.47 L663.50,291.44 L664.25,291.42 L665.00,291.40" fill="none" stroke="#b8b8b8" stroke-width="1"/>
<path d="M455.00,434.30 L455.75,434.30 L456.50,434.30 L457.25,434.30 L458.00,434.29 L458.75,434.29 L459.50,434.29 L460.25,434.28 L461.00,434.28 L461.75,434.27 L462.50,434.26 L463.25,434.26 L464.00,434.25 L464.75,434.24 L465.50,434.24 L466.25,434.23 L467.00,434.22 L467.75,434.21 L468.50,434.20 L469.25,434.19 L470.00,434.19 L470.75,434.18 L471.50,434.17 L472.25,434.16 L473.00,434.15 L473.75,434.14 L474.50,434.12 L475.25,434.11 L476.00,434.10 L476.75,434.08 L477.50,434.07 L478.25,434.05 L479.00,434.04 L479.75,434.02 L480.50,434.00 L481.25,433.98 L482.00,433.96 L482.75,433.94 L483.50,433.92 L484.25,433.89 L485.00,433.87 L485.75,433.84 L486.50,433.82 L487.25,433.79 L488.00,433.76 L488.75,433.73 L489.50,433.69 L490.25,433.66 L491.00,433.62 L491.75,433.59 L492.50,433.55 L493.25,433.51 L494.00,433.46 L494.75,433.42 L495.50,433.37 L496.25,433.29 L497.00,433.18 L497.75,433.03 L498.50,432.86 L499.25,432.67 L500.00,432.46 L500.75,432.23 L501.50,431.99 L502.25,431.74 L503.00,431.48 L503.75,431.22 L504.50,430.95 L505.25,430.69 L506.00,430.43 L506.75,430.19 L507.50,429.95 L508.25,429.72 L509.00,429.49 L509.75,429.26 L510.50,429.03 L511.25,428.79 L512.00,428.54 L512.75,428.27 L513.50,428.00 L514.25,427.70 L515.00,427.38 L515.75,427.05 L516.50,426.69 L517.25,426.32 L518.00,425.94 L518.75,425.54 L519.50,425.12 L520.25,424.68 L521.00,424.22 L521.75,423.74 L522.50,423.24 L523.25,422.74 L524.00,422.20 L524.75,421.64 L525.50,421.07 L526.25,420.48 L527.00,419.87 L527.75,419.22 L528.50,418.56 L529.25,417.89 L530.00,417.20 L530.75,416.50 L531.50,415.79 L532.25,415.07 L533.00,414.33 L533.75,413.57 L534.50,412.77 L535.25,411.96 L536.00,411.14 L536.75,410.30 L537.50,409.45 L538.25,408.59 L539.00,407.71 L539.75,406.81 L540.50,405.90 L541.25,404.98 L542.00,404.04 L542.75,403.09 L543.50,402.13 L544.25,401.15 L545.00,400.16 L545.75,399.17 L546.50,398.16 L547.25,397.14 L548.00,396.12 L548.75,395.07 L549.50,394.02 L550.25,392.96 L551.00,391.89 L551.75,390.82 L552.50,389.73 L553.25,388.63 L554.00,387.53 L554.75,386.42 L555.50,385.30 L556.25,384.17 L557.00,383.04 L557.75,381.90 L558.50,380.75 L559.25,379.60 L560.00,378.45 L560.75,377.28 L561.50,376.11 L562.25,374.94 L563.00,373.76 L563.75,372.58 L564.50,371.39 L565.25,370.20 L566.00,369.01 L566.75,367.82 L567.50,366.62 L568.25,365.42 L569.00,364.21 L569.75,363.01 L570.50,361.80 L571.25,360.59 L572.00,359.38 L572.75,358.17 L573.50,356.96 L574.25,355.75 L575.00,354.54 L575.75,353.33 L576.50,352.12 L577.25,350.91 L578.00,349.71 L578.75,348.51 L579.50,347.31 L580.25,346.11 L581.00,344.92 L581.75,343.73 L582.50,342.54 L583.25,341.36 L584.00,340.18 L584.75,339.01 L585.50,337.85 L586.25,336.69 L587.00,335.54 L587.75,334.40 L588.50,333.26 L589.25,332.13 L590.00,331.02 L590.75,329.91 L591.50,328.81 L592.25,327.73 L593.00,326.66 L593.75,325.59 L594.50,324.54 L595.25,323.51 L596.00,322.48 L596.75,321.47 L597.50,320.48 L598.25,319.51 L599.00,318.54 L599.75,317.60 L600.50,316.69 L601.25,315.80 L602.00,314.91 L602.75,314.05 L603.50,313.20 L604.25,312.37 L605.00,311.56 L605.75,310.77 L606.50,310.01 L607.25,309.28 L608.00,308.58 L608.75,307.89 L609.50,307.23 L610.25,306.58 L611.00,305.94 L611.75,305.36 L612.50,304.82 L613.25,304.29 L614.00,303.76 L614.75,303.25 L615.50,302.76 L616.25,302.28 L617.00,301.81 L617.75,301.37 L618.50,300.94 L619.25,300.54 L620.00,300.16 L620.75,299.81 L621.50,299.46 L622.25,299.13 L623.00,298.82 L623.75,298.52 L624.50,298.24 L625.25,297.98 L626.00,297.73 L626.75,297.51 L627.50,297.31 L628.25,297.12 L629.00,296.94 L629.75,296.76 L630.50,296.60 L631.25,296.44 L632.00,296.29 L632.75,296.15 L633.50,296.00 L634.25,295.87 L635.00,295.73 L635.75,295.59 L636.50,295.45 L637.25,295.32 L638.00,295.17 L638.75,295.03 L639.50,294.88 L640.25,294.72 L641.00,294.56 L641.75,294.40 L642.50,294.23 L643.25,294.06 L644.00,293.89 L644.75,293.72 L645.50,293.55 L646.25,293.39 L647.00,293.23 L647.75,293.08 L648.50,292.93 L649.25,292.80 L650.00,292.67 L650.75,292.56 L651.50,292.46 L652.25,292.37 L653.00,292.29 L653.75,292.21 L654.50,292.13 L655.25,292.05 L656.00,291.97 L656.75,291.90 L657.50,291.83 L658.25,291.77 L659.00,291.70 L659.75,291.65 L660.50,291.59 L661.25,291.55 L662.00,291.50 L662.75,291.47 L663.50,291.44 L664.25,291.42 L665.00,291.40" fill="none" stroke="#333" stroke-width="1.1" stroke-dasharray="1.1 0.9"/>
<path d="M445.00,434.30 L445.75,434.30 L446.50,434.30 L447.25,434.30 L448.00,434.29 L448.75,434.29 L449.50,434.28 L450.25,434.28 L451.00,434.27 L451.75,434.26 L452.50,434.25 L453.25,434.24 L454.00,434.23 L454.75,434.22 L455.50,434.21 L456.25,434.20 L457.00,434.19 L457.75,434.18 L458.50,434.16 L459.25,434.13 L460.00,434.10 L460.75,434.07 L461.50,434.04 L462.25,434.00 L463.00,433.95 L463.75,433.91 L464.50,433.86 L465.25,433.80 L466.00,433.75 L466.75,433.69 L467.50,433.62 L468.25,433.56 L469.00,433.49 L469.75,433.42 L470.50,433.34 L471.25,433.26 L472.00,433.18 L472.75,433.10 L473.50,433.01 L474.25,432.92 L475.00,432.83 L475.75,432.74 L476.50,432.64 L477.25,432.55 L478.00,432.44 L478.75,432.33 L479.50,432.19 L480.25,432.04 L481.00,431.88 L481.75,431.69 L482.50,431.50 L483.25,431.29 L484.00,431.06 L484.75,430.83 L485.50,430.58 L486.25,430.32 L487.00,430.04 L487.75,429.76 L488.50,429.47 L489.25,429.16 L490.00,428.84 L490.75,428.46 L491.50,428.03 L492.25,427.55 L493.00,427.05 L493.75,426.52 L494.50,425.98 L495.25,425.43 L496.00,424.85 L496.75,424.23 L497.50,423.59 L498.25,422.94 L499.00,422.27 L499.75,421.57 L500.50,420.85 L501.25,420.12 L502.00,419.36 L502.75,418.58 L503.50,417.79 L504.25,416.99 L505.00,416.18 L505.75,415.36 L506.50,414.53 L507.25,413.68 L508.00,412.81 L508.75,411.93 L509.50,411.04 L510.25,410.14 L511.00,409.23 L511.75,408.31 L512.50,407.38 L513.25,406.43 L514.00,405.48 L514.75,404.53 L515.50,403.56 L516.25,402.58 L517.00,401.59 L517.75,400.60 L518.50,399.60 L519.25,398.60 L520.00,397.59 L520.75,396.57 L521.50,395.55 L522.25,394.51 L523.00,393.48 L523.75,392.43 L524.50,391.39 L525.25,390.33 L526.00,389.28 L526.75,388.21 L527.50,387.14 L528.25,386.07 L529.00,385.00 L529.75,383.92 L530.50,382.83 L531.25,381.75 L532.00,380.66 L532.75,379.56 L533.50,378.47 L534.25,377.37 L535.00,376.27 L535.75,375.16 L536.50,374.06 L537.25,372.95 L538.00,371.84 L538.75,370.72 L539.50,369.61 L540.25,368.50 L541.00,367.38 L541.75,366.26 L542.50,365.15 L543.25,364.03 L544.00,362.91 L544.75,361.79 L545.50,360.67 L546.25,359.56 L547.00,358.44 L547.75,357.32 L548.50,356.21 L549.25,355.09 L550.00,353.98 L550.75,352.87 L551.50,351.76 L552.25,350.65 L553.00,349.54 L553.75,348.44 L554.50,347.34 L555.25,346.24 L556.00,345.15 L556.75,344.06 L557.50,342.97 L558.25,341.88 L559.00,340.80 L559.75,339.73 L560.50,338.66 L561.25,337.59 L562.00,336.53 L562.75,335.48 L563.50,334.43 L564.25,333.39 L565.00,332.35 L565.75,331.32 L566.50,330.30 L567.25,329.29 L568.00,328.29 L568.75,327.29 L569.50,326.30 L570.25,325.32 L571.00,324.35 L571.75,323.39 L572.50,322.44 L573.25,321.50 L574.00,320.57 L574.75,319.66 L575.50,318.75 L576.25,317.86 L577.00,316.99 L577.75,316.13 L578.50,315.29 L579.25,314.45 L580.00,313.63 L580.75,312.82 L581.50,312.03 L582.25,311.25 L583.00,310.48 L583.75,309.75 L584.50,309.04 L585.25,308.34 L586.00,307.67 L586.75,307.00 L587.50,306.35 L588.25,305.71 L589.00,305.14 L589.75,304.58 L590.50,304.02 L591.25,303.48 L592.00,302.95 L592.75,302.43 L593.50,301.93 L594.25,301.45 L595.00,300.99 L595.75,300.55 L596.50,300.14 L597.25,299.74 L598.00,299.36 L598.75,299.00 L599.50,298.65 L600.25,298.32 L601.00,298.01 L601.75,297.73 L602.50,297.48 L603.25,297.24 L604.00,297.02 L604.75,296.81 L605.50,296.61 L606.25,296.41 L607.00,296.23 L607.75,296.05 L608.50,295.88 L609.25,295.71 L610.00,295.55 L610.75,295.39 L611.50,295.23 L612.25,295.08 L613.00,294.92 L613.75,294.76 L614.50,294.61 L615.25,294.45 L616.00,294.29 L616.75,294.14 L617.50,293.98 L618.25,293.83 L619.00,293.68 L619.75,293.53 L620.50,293.39 L621.25,293.25 L622.00,293.12 L622.75,292.99 L623.50,292.87 L624.25,292.75 L625.00,292.65 L625.75,292.55 L626.50,292.46 L627.25,292.37 L628.00,292.29 L628.75,292.22 L629.50,292.14 L630.25,292.06 L631.00,291.99 L631.75,291.92 L632.50,291.85 L633.25,291.79 L634.00,291.73 L634.75,291.67 L635.50,291.62 L636.25,291.57 L637.00,291.53 L637.75,291.49 L638.50,291.45 L639.25,291.42 L640.00,291.40" fill="none" stroke="#1e1e1e" stroke-width="1.1"/>
<path d="M431.10,434.30 L431.85,434.30 L432.60,434.30 L433.35,434.30 L434.10,434.30 L434.85,434.30 L435.60,434.30 L436.35,434.30 L437.10,434.30 L437.85,434.30 L438.60,434.30 L439.35,434.30 L440.10,434.30 L440.85,434.30 L441.60,434.30 L442.35,434.30 L443.10,434.30 L443.85,434.30 L444.60,434.30 L445.35,434.30 L446.10,434.30 L446.85,434.30 L447.60,434.30 L448.35,434.30 L449.10,434.30 L449.85,434.30 L450.60,434.30 L451.35,434.30 L452.10,434.29 L452.85,434.27 L453.60,434.23 L454.35,434.17 L455.10,434.10 L455.85,434.02 L456.60,433.92 L457.35,433.82 L458.10,433.70 L458.85,433.57 L459.60,433.43 L460.35,433.27 L461.10,433.11 L461.85,432.95 L462.60,432.77 L463.35,432.58 L464.10,432.39 L464.85,432.20 L465.60,431.99 L466.35,431.78 L467.10,431.57 L467.85,431.30 L468.60,430.95 L469.35,430.55 L470.10,430.09 L470.85,429.61 L471.60,429.11 L472.35,428.61 L473.10,428.13 L473.85,427.66 L474.60,427.19 L475.35,426.70 L476.10,426.20 L476.85,425.68 L477.60,425.12 L478.35,424.55 L479.10,423.97 L479.85,423.37 L480.60,422.76 L481.35,422.14 L482.10,421.50 L482.85,420.85 L483.60,420.19 L484.35,419.48 L485.10,418.74 L485.85,417.99 L486.60,417.22 L487.35,416.44 L488.10,415.64 L488.85,414.83 L489.60,414.00 L490.35,413.12 L491.10,412.22 L491.85,411.30 L492.60,410.37 L493.35,409.42 L494.10,408.45 L494.85,407.45 L495.60,406.42 L496.35,405.38 L497.10,404.32 L497.85,403.24 L498.60,402.13 L499.35,401.00 L500.10,399.86 L500.85,398.70 L501.60,397.52 L502.35,396.33 L503.10,395.11 L503.85,393.87 L504.60,392.62 L505.35,391.35 L506.10,390.07 L506.85,388.77 L507.60,387.46 L508.35,386.14 L509.10,384.80 L509.85,383.45 L510.60,382.09 L511.35,380.72 L512.10,379.34 L512.85,377.96 L513.60,376.56 L514.35,375.16 L515.10,373.75 L515.85,372.34 L516.60,370.93 L517.35,369.51 L518.10,368.10 L518.85,366.68 L519.60,365.26 L520.35,363.85 L521.10,362.44 L521.85,361.03 L522.60,359.62 L523.35,358.22 L524.10,356.83 L524.85,355.44 L525.60,354.06 L526.35,352.69 L527.10,351.33 L527.85,349.98 L528.60,348.65 L529.35,347.32 L530.10,346.00 L530.85,344.71 L531.60,343.42 L532.35,342.14 L533.10,340.88 L533.85,339.64 L534.60,338.42 L535.35,337.21 L536.10,336.01 L536.85,334.84 L537.60,333.68 L538.35,332.54 L539.10,331.41 L539.85,330.31 L540.60,329.22 L541.35,328.16 L542.10,327.11 L542.85,326.09 L543.60,325.08 L544.35,324.08 L545.10,323.11 L545.85,322.15 L546.60,321.22 L547.35,320.30 L548.10,319.41 L548.85,318.53 L549.60,317.67 L550.35,316.84 L551.10,316.03 L551.85,315.24 L552.60,314.46 L553.35,313.69 L554.10,312.94 L554.85,312.20 L555.60,311.48 L556.35,310.78 L557.10,310.10 L557.85,309.45 L558.60,308.82 L559.35,308.20 L560.10,307.59 L560.85,307.00 L561.60,306.41 L562.35,305.84 L563.10,305.31 L563.85,304.80 L564.60,304.30 L565.35,303.80 L566.10,303.31 L566.85,302.83 L567.60,302.37 L568.35,301.91 L569.10,301.46 L569.85,301.03 L570.60,300.61 L571.35,300.20 L572.10,299.81 L572.85,299.43 L573.60,299.06 L574.35,298.71 L575.10,298.36 L575.85,298.04 L576.60,297.72 L577.35,297.43 L578.10,297.14 L578.85,296.85 L579.60,296.57 L580.35,296.29 L581.10,296.03 L581.85,295.77 L582.60,295.54 L583.35,295.31 L584.10,295.11 L584.85,294.93 L585.60,294.77 L586.35,294.62 L587.10,294.47 L587.85,294.32 L588.60,294.18 L589.35,294.05 L590.10,293.92 L590.85,293.79 L591.60,293.68 L592.35,293.56 L593.10,293.45 L593.85,293.34 L594.60,293.24 L595.35,293.14 L596.10,293.05 L596.85,292.95 L597.60,292.87 L598.35,292.78 L599.10,292.70 L599.85,292.62 L600.60,292.54 L601.35,292.46 L602.10,292.38 L602.85,292.31 L603.60,292.24 L604.35,292.16 L605.10,292.09 L605.85,292.03 L606.60,291.96 L607.35,291.90 L608.10,291.84 L608.85,291.78 L609.60,291.72 L610.35,291.67 L611.10,291.61 L611.85,291.57 L612.60,291.52 L613.35,291.48 L614.10,291.44 L614.85,291.41 L615.00,291.40" fill="none" stroke="#1e1e1e" stroke-width="1.1" stroke-dasharray="9 1.6 0.5 1.6"/>
<line x1="393.0" y1="286.5" x2="393.0" y2="439.3" stroke="#555555" stroke-width="1"/>
<line x1="393.0" y1="439.3" x2="684.3" y2="439.3" stroke="#555555" stroke-width="1"/>
<line x1="389.0" y1="434.30" x2="393.0" y2="434.30" stroke="#555555" stroke-width="1"/>
<text x="385.20" y="438.60" font-family='"Liberation Sans", sans-serif' font-size="12.2" font-weight="normal" text-anchor="end" fill="#1a1a1a" stroke="#1a1a1a" stroke-width="0.25" xml:space="preserve">0</text>
<line x1="389.0" y1="405.72" x2="393.0" y2="405.72" stroke="#555555" stroke-width="1"/>
<text x="385.20" y="410.02" font-family='"Liberation Sans", sans-serif' font-size="12.2" font-weight="normal" text-anchor="end" fill="#1a1a1a" stroke="#1a1a1a" stroke-width="0.25" xml:space="preserve">.2</text>
<line x1="389.0" y1="377.14" x2="393.0" y2="377.14" stroke="#555555" stroke-width="1"/>
<text x="385.20" y="381.44" font-family='"Liberation Sans", sans-serif' font-size="12.2" font-weight="normal" text-anchor="end" fill="#1a1a1a" stroke="#1a1a1a" stroke-width="0.25" xml:space="preserve">.4</text>
<line x1="389.0" y1="348.56" x2="393.0" y2="348.56" stroke="#555555" stroke-width="1"/>
<text x="385.20" y="352.86" font-family='"Liberation Sans", sans-serif' font-size="12.2" font-weight="normal" text-anchor="end" fill="#1a1a1a" stroke="#1a1a1a" stroke-width="0.25" xml:space="preserve">.6</text>
<line x1="389.0" y1="319.98" x2="393.0" y2="319.98" stroke="#555555" stroke-width="1"/>
<text x="385.20" y="324.28" font-family='"Liberation Sans", sans-serif' font-size="12.2" font-weight="normal" text-anchor="end" fill="#1a1a1a" stroke="#1a1a1a" stroke-width="0.25" xml:space="preserve">.8</text>
<line x1="389.0" y1="291.40" x2="393.0" y2="291.40" stroke="#555555" stroke-width="1"/>
<text x="383.90" y="295.70" font-family='"Liberation Sans", sans-serif' font-size="12.2" font-weight="normal" text-anchor="end" fill="#1a1a1a" stroke="#1a1a1a" stroke-width="0.25" xml:space="preserve">1</text>
<line x1="397.50" y1="439.3" x2="397.50" y2="443.3" stroke="#555555" stroke-width="1"/>
<text x="397.50" y="459.4" font-family='"Liberation Sans", sans-serif' font-size="12.2" font-weight="normal" text-anchor="middle" fill="#1a1a1a" stroke="#1a1a1a" stroke-width="0.25" xml:space="preserve">5</text>
<line x1="467.90" y1="439.3" x2="467.90" y2="443.3" stroke="#555555" stroke-width="1"/>
<text x="467.90" y="459.4" font-family='"Liberation Sans", sans-serif' font-size="12.2" font-weight="normal" text-anchor="middle" fill="#1a1a1a" stroke="#1a1a1a" stroke-width="0.25" xml:space="preserve">6</text>
<line x1="538.30" y1="439.3" x2="538.30" y2="443.3" stroke="#555555" stroke-width="1"/>
<text x="538.30" y="459.4" font-family='"Liberation Sans", sans-serif' font-size="12.2" font-weight="normal" text-anchor="middle" fill="#1a1a1a" stroke="#1a1a1a" stroke-width="0.25" xml:space="preserve">7</text>
<line x1="608.70" y1="439.3" x2="608.70" y2="443.3" stroke="#555555" stroke-width="1"/>
<text x="608.70" y="459.4" font-family='"Liberation Sans", sans-serif' font-size="12.2" font-weight="normal" text-anchor="middle" fill="#1a1a1a" stroke="#1a1a1a" stroke-width="0.25" xml:space="preserve">8</text>
<line x1="679.10" y1="439.3" x2="679.10" y2="443.3" stroke="#555555" stroke-width="1"/>
<text x="679.10" y="459.4" font-family='"Liberation Sans", sans-serif' font-size="12.2" font-weight="normal" text-anchor="middle" fill="#1a1a1a" stroke="#1a1a1a" stroke-width="0.25" xml:space="preserve">9</text>
<text x="359.3" y="286.2" font-family='"Liberation Serif", serif' font-size="15" font-weight="bold" text-anchor="start" fill="#111" stroke="#111" stroke-width="0.25" xml:space="preserve">(d)</text>
<text x="430.4" y="283.3" font-family='"Liberation Sans", sans-serif' font-size="13" font-weight="normal" text-anchor="start" fill="#1a1a1a" stroke="#1a1a1a" stroke-width="0.25" textLength="213.6" lengthAdjust="spacingAndGlyphs" xml:space="preserve">Cumulative Distribution Plots at q(.9)</text>
<text x="464.5" y="478.1" font-family='"Liberation Sans", sans-serif' font-size="13" font-weight="normal" text-anchor="start" fill="#1a1a1a" stroke="#1a1a1a" stroke-width="0.25" textLength="146.4" lengthAdjust="spacingAndGlyphs" xml:space="preserve">Per–Capita Consumption</text>
<g transform="translate(366.3,363.0) rotate(-90)"><text x="0" y="0" font-family='"Liberation Sans", sans-serif' font-size="13" font-weight="normal" text-anchor="middle" fill="#1a1a1a" stroke="#1a1a1a" stroke-width="0.25" textLength="129" lengthAdjust="spacingAndGlyphs" xml:space="preserve">Cumulative Probability</text></g>
<rect x="390.8" y="487.6" width="284.40000000000003" height="26.600000000000023" fill="#fff" stroke="#8a8a8a" stroke-width="1.3"/>
<line x1="394.1" y1="495.4" x2="423.0" y2="495.4" stroke="#1e1e1e" stroke-width="1.1"/>
<line x1="394.1" y1="507.1" x2="423.0" y2="507.1" stroke="#2a2a2a" stroke-width="1.1" stroke-dasharray="1.1 1.65"/>
<line x1="544.9" y1="495.4" x2="574.5" y2="495.4" stroke="#1e1e1e" stroke-width="1.1" stroke-dasharray="5.2 2.2"/>
<line x1="544.9" y1="507.1" x2="574.5" y2="507.1" stroke="#1e1e1e" stroke-width="1.1" stroke-dasharray="10.2 2.2 0.6 2.2"/>
<text x="428.3" y="498.60" font-family='"Liberation Sans", sans-serif' font-size="8.4" font-weight="normal" text-anchor="start" fill="#1a1a1a" stroke="#1a1a1a" stroke-width="0.25" textLength="88.2" lengthAdjust="spacingAndGlyphs" xml:space="preserve">c.d.f. of  Self–employed</text>
<text x="428.3" y="510.30" font-family='"Liberation Sans", sans-serif' font-size="8.4" font-weight="normal" text-anchor="start" fill="#1a1a1a" stroke="#1a1a1a" stroke-width="0.25" textLength="106.6" lengthAdjust="spacingAndGlyphs" xml:space="preserve">c.d.f. of  Salaried Employees</text>
<text x="578.7" y="498.60" font-family='"Liberation Sans", sans-serif' font-size="8.4" font-weight="normal" text-anchor="start" fill="#1a1a1a" stroke="#1a1a1a" stroke-width="0.25" textLength="72.2" lengthAdjust="spacingAndGlyphs" xml:space="preserve">c.d.f. of  Employers</text>
<text x="578.7" y="510.30" font-family='"Liberation Sans", sans-serif' font-size="8.4" font-weight="normal" text-anchor="start" fill="#1a1a1a" stroke="#1a1a1a" stroke-width="0.25" textLength="93.5" lengthAdjust="spacingAndGlyphs" xml:space="preserve">c.d.f. of  Casual Laborers</text>
</svg></body></html>
